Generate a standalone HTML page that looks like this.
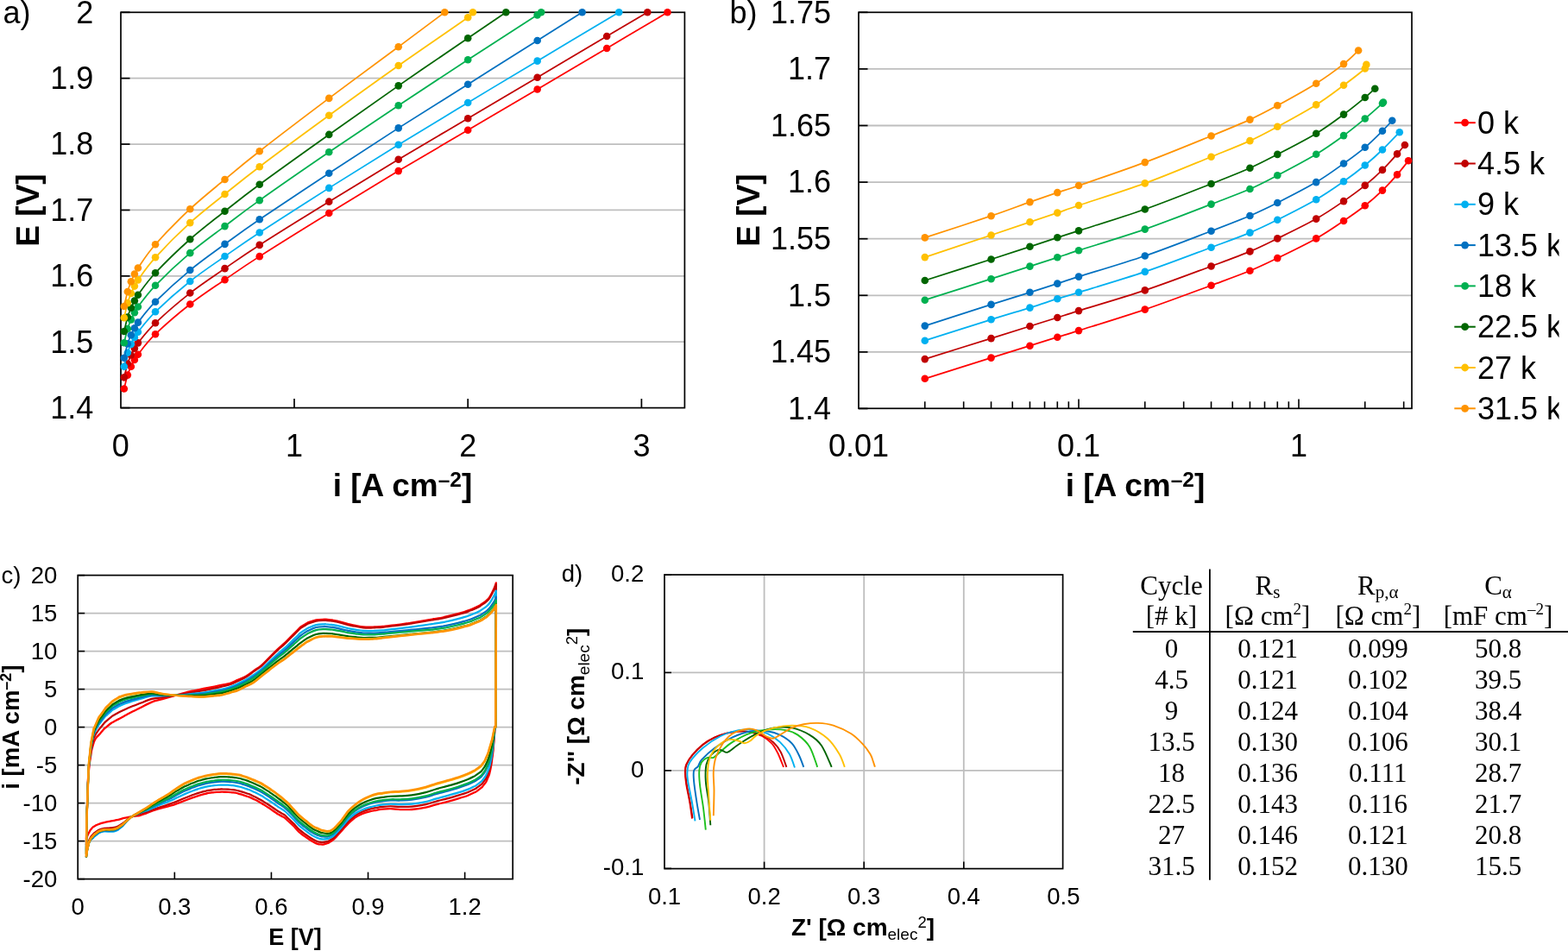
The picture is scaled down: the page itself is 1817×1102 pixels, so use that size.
<!DOCTYPE html>
<html><head><meta charset="utf-8"><title>Figure</title><style>html,body{margin:0;padding:0;background:#fff;overflow:hidden}svg{display:block}</style></head><body>
<svg width="1817" height="1102" viewBox="0 0 1817 1102">
<rect width="100%" height="100%" fill="#fff"/>
<line x1="140" y1="396.22" x2="793.4" y2="396.22" stroke="#BEBEBE" stroke-width="1.8"/>
<line x1="140" y1="319.83" x2="793.4" y2="319.83" stroke="#BEBEBE" stroke-width="1.8"/>
<line x1="140" y1="243.45" x2="793.4" y2="243.45" stroke="#BEBEBE" stroke-width="1.8"/>
<line x1="140" y1="167.07" x2="793.4" y2="167.07" stroke="#BEBEBE" stroke-width="1.8"/>
<line x1="140" y1="90.68" x2="793.4" y2="90.68" stroke="#BEBEBE" stroke-width="1.8"/>
<rect x="140" y="14.3" width="653.4" height="458.3" fill="none" stroke="#000" stroke-width="1.7"/>
<line x1="140" y1="472.6" x2="150.5" y2="472.6" stroke="#000" stroke-width="1.7"/>
<line x1="140" y1="396.22" x2="150.5" y2="396.22" stroke="#000" stroke-width="1.7"/>
<line x1="140" y1="319.83" x2="150.5" y2="319.83" stroke="#000" stroke-width="1.7"/>
<line x1="140" y1="243.45" x2="150.5" y2="243.45" stroke="#000" stroke-width="1.7"/>
<line x1="140" y1="167.07" x2="150.5" y2="167.07" stroke="#000" stroke-width="1.7"/>
<line x1="140" y1="90.68" x2="150.5" y2="90.68" stroke="#000" stroke-width="1.7"/>
<line x1="140" y1="14.3" x2="150.5" y2="14.3" stroke="#000" stroke-width="1.7"/>
<line x1="341" y1="472.6" x2="341" y2="462.1" stroke="#000" stroke-width="1.7"/>
<line x1="542.2" y1="472.6" x2="542.2" y2="462.1" stroke="#000" stroke-width="1.7"/>
<line x1="743.4" y1="472.6" x2="743.4" y2="462.1" stroke="#000" stroke-width="1.7"/>
<path d="M143.82,450.55 C144.49,447.89 146.51,438.93 147.85,434.61 C149.19,430.3 150.53,427.61 151.87,424.67 C153.21,421.74 154.55,419.32 155.9,417 C157.24,414.68 155.9,415.69 159.92,410.73 C163.94,405.76 169.98,396.93 180.04,387.22 C190.1,377.52 206.87,363 220.28,352.49 C233.69,341.99 247.11,333.4 260.52,324.17 C273.93,314.94 280.64,310 300.76,297.13 C320.88,284.26 354.41,263.45 381.24,246.94 C408.07,230.44 434.89,214.12 461.72,198.1 C488.55,182.08 515.37,166.58 542.2,150.82 C569.03,135.06 595.85,119.35 622.68,103.55 C649.51,87.74 678.02,70.86 703.16,55.98 C728.3,41.11 761.77,21.25 773.49,14.3" fill="none" stroke="#FF0000" stroke-width="1.75"/>
<circle cx="143.82" cy="450.55" r="4.3" fill="#FF0000"/>
<circle cx="147.85" cy="434.61" r="4.3" fill="#FF0000"/>
<circle cx="151.87" cy="424.67" r="4.3" fill="#FF0000"/>
<circle cx="155.9" cy="417" r="4.3" fill="#FF0000"/>
<circle cx="159.92" cy="410.73" r="4.3" fill="#FF0000"/>
<circle cx="180.04" cy="387.22" r="4.3" fill="#FF0000"/>
<circle cx="220.28" cy="352.49" r="4.3" fill="#FF0000"/>
<circle cx="260.52" cy="324.17" r="4.3" fill="#FF0000"/>
<circle cx="300.76" cy="297.13" r="4.3" fill="#FF0000"/>
<circle cx="381.24" cy="246.94" r="4.3" fill="#FF0000"/>
<circle cx="461.72" cy="198.1" r="4.3" fill="#FF0000"/>
<circle cx="542.2" cy="150.82" r="4.3" fill="#FF0000"/>
<circle cx="622.68" cy="103.55" r="4.3" fill="#FF0000"/>
<circle cx="703.16" cy="55.98" r="4.3" fill="#FF0000"/>
<circle cx="773.49" cy="14.3" r="4.3" fill="#FF0000"/>
<path d="M143.82,437.33 C144.49,434.7 146.51,425.83 147.85,421.51 C149.19,417.2 150.53,414.41 151.87,411.46 C153.21,408.5 154.55,406.14 155.9,403.79 C157.24,401.43 155.9,402.25 159.92,397.34 C163.94,392.42 169.98,383.93 180.04,374.3 C190.1,364.67 206.87,350.1 220.28,339.57 C233.69,329.04 247.11,320.41 260.52,311.13 C273.93,301.85 280.64,296.82 300.76,283.91 C320.88,271 354.41,250.19 381.24,233.67 C408.07,217.14 434.89,200.84 461.72,184.76 C488.55,168.69 515.37,153.03 542.2,137.2 C569.03,121.36 595.85,105.61 622.68,89.75 C649.51,73.88 681.89,54.58 703.16,42.01 C724.43,29.43 742.44,18.92 750.3,14.3" fill="none" stroke="#C00000" stroke-width="1.75"/>
<circle cx="143.82" cy="437.33" r="4.3" fill="#C00000"/>
<circle cx="147.85" cy="421.51" r="4.3" fill="#C00000"/>
<circle cx="151.87" cy="411.46" r="4.3" fill="#C00000"/>
<circle cx="155.9" cy="403.79" r="4.3" fill="#C00000"/>
<circle cx="159.92" cy="397.34" r="4.3" fill="#C00000"/>
<circle cx="180.04" cy="374.3" r="4.3" fill="#C00000"/>
<circle cx="220.28" cy="339.57" r="4.3" fill="#C00000"/>
<circle cx="260.52" cy="311.13" r="4.3" fill="#C00000"/>
<circle cx="300.76" cy="283.91" r="4.3" fill="#C00000"/>
<circle cx="381.24" cy="233.67" r="4.3" fill="#C00000"/>
<circle cx="461.72" cy="184.76" r="4.3" fill="#C00000"/>
<circle cx="542.2" cy="137.2" r="4.3" fill="#C00000"/>
<circle cx="622.68" cy="89.75" r="4.3" fill="#C00000"/>
<circle cx="703.16" cy="42.01" r="4.3" fill="#C00000"/>
<circle cx="750.3" cy="14.3" r="4.3" fill="#C00000"/>
<path d="M143.82,424.83 C144.49,422.15 146.51,413.06 147.85,408.73 C149.19,404.4 150.53,401.83 151.87,398.86 C153.21,395.89 154.55,393.27 155.9,390.91 C157.24,388.55 155.9,389.64 159.92,384.71 C163.94,379.78 169.98,371.11 180.04,361.32 C190.1,351.53 206.87,336.67 220.28,325.96 C233.69,315.25 247.11,306.48 260.52,297.06 C273.93,287.64 280.64,282.64 300.76,269.44 C320.88,256.25 354.41,234.81 381.24,217.88 C408.07,200.94 434.89,184.3 461.72,167.82 C488.55,151.34 515.37,135.19 542.2,118.99 C569.03,102.79 593.51,88.07 622.68,70.63 C651.85,53.18 701.47,23.69 717.23,14.3" fill="none" stroke="#00B0F0" stroke-width="1.75"/>
<circle cx="143.82" cy="424.83" r="4.3" fill="#00B0F0"/>
<circle cx="147.85" cy="408.73" r="4.3" fill="#00B0F0"/>
<circle cx="151.87" cy="398.86" r="4.3" fill="#00B0F0"/>
<circle cx="155.9" cy="390.91" r="4.3" fill="#00B0F0"/>
<circle cx="159.92" cy="384.71" r="4.3" fill="#00B0F0"/>
<circle cx="180.04" cy="361.32" r="4.3" fill="#00B0F0"/>
<circle cx="220.28" cy="325.96" r="4.3" fill="#00B0F0"/>
<circle cx="260.52" cy="297.06" r="4.3" fill="#00B0F0"/>
<circle cx="300.76" cy="269.44" r="4.3" fill="#00B0F0"/>
<circle cx="381.24" cy="217.88" r="4.3" fill="#00B0F0"/>
<circle cx="461.72" cy="167.82" r="4.3" fill="#00B0F0"/>
<circle cx="542.2" cy="118.99" r="4.3" fill="#00B0F0"/>
<circle cx="622.68" cy="70.63" r="4.3" fill="#00B0F0"/>
<circle cx="717.23" cy="14.3" r="4.3" fill="#00B0F0"/>
<path d="M143.82,414.78 C144.49,412.05 146.51,402.84 147.85,398.42 C149.19,393.99 150.53,391.24 151.87,388.22 C153.21,385.2 154.55,382.72 155.9,380.3 C157.24,377.87 155.9,378.75 159.92,373.65 C163.94,368.55 169.98,359.79 180.04,349.69 C190.1,339.59 206.87,324.2 220.28,313.07 C233.69,301.93 247.11,292.69 260.52,282.9 C273.93,273.11 280.64,268.01 300.76,254.31 C320.88,240.6 354.41,218.33 381.24,200.68 C408.07,183.02 434.89,165.53 461.72,148.38 C488.55,131.23 515.37,114.68 542.2,97.77 C569.03,80.87 600.6,60.85 622.68,46.94 C644.76,33.02 665.99,19.74 674.65,14.3" fill="none" stroke="#0070C0" stroke-width="1.75"/>
<circle cx="143.82" cy="414.78" r="4.3" fill="#0070C0"/>
<circle cx="147.85" cy="398.42" r="4.3" fill="#0070C0"/>
<circle cx="151.87" cy="388.22" r="4.3" fill="#0070C0"/>
<circle cx="155.9" cy="380.3" r="4.3" fill="#0070C0"/>
<circle cx="159.92" cy="373.65" r="4.3" fill="#0070C0"/>
<circle cx="180.04" cy="349.69" r="4.3" fill="#0070C0"/>
<circle cx="220.28" cy="313.07" r="4.3" fill="#0070C0"/>
<circle cx="260.52" cy="282.9" r="4.3" fill="#0070C0"/>
<circle cx="300.76" cy="254.31" r="4.3" fill="#0070C0"/>
<circle cx="381.24" cy="200.68" r="4.3" fill="#0070C0"/>
<circle cx="461.72" cy="148.38" r="4.3" fill="#0070C0"/>
<circle cx="542.2" cy="97.77" r="4.3" fill="#0070C0"/>
<circle cx="622.68" cy="46.94" r="4.3" fill="#0070C0"/>
<circle cx="674.65" cy="14.3" r="4.3" fill="#0070C0"/>
<path d="M143.82,397.28 C144.49,394.56 146.51,385.43 147.85,380.94 C149.19,376.46 150.53,373.47 151.87,370.36 C153.21,367.26 154.55,364.77 155.9,362.29 C157.24,359.81 155.9,360.75 159.92,355.5 C163.94,350.25 169.98,341.18 180.04,330.79 C190.1,320.39 206.87,304.57 220.28,293.13 C233.69,281.68 247.11,272.27 260.52,262.1 C273.93,251.94 280.64,246.43 300.76,232.13 C320.88,217.83 354.41,194.64 381.24,176.31 C408.07,157.99 434.89,140.03 461.72,122.18 C488.55,104.34 515.37,86.69 542.2,69.22 C569.03,51.75 608.52,26.52 622.68,17.36 C636.84,8.21 626.4,14.81 627.15,14.3" fill="none" stroke="#00B050" stroke-width="1.75"/>
<circle cx="143.82" cy="397.28" r="4.3" fill="#00B050"/>
<circle cx="147.85" cy="380.94" r="4.3" fill="#00B050"/>
<circle cx="151.87" cy="370.36" r="4.3" fill="#00B050"/>
<circle cx="155.9" cy="362.29" r="4.3" fill="#00B050"/>
<circle cx="159.92" cy="355.5" r="4.3" fill="#00B050"/>
<circle cx="180.04" cy="330.79" r="4.3" fill="#00B050"/>
<circle cx="220.28" cy="293.13" r="4.3" fill="#00B050"/>
<circle cx="260.52" cy="262.1" r="4.3" fill="#00B050"/>
<circle cx="300.76" cy="232.13" r="4.3" fill="#00B050"/>
<circle cx="381.24" cy="176.31" r="4.3" fill="#00B050"/>
<circle cx="461.72" cy="122.18" r="4.3" fill="#00B050"/>
<circle cx="542.2" cy="69.22" r="4.3" fill="#00B050"/>
<circle cx="622.68" cy="17.36" r="4.3" fill="#00B050"/>
<circle cx="627.15" cy="14.3" r="4.3" fill="#00B050"/>
<path d="M143.82,383.96 C144.49,381.22 146.51,372.04 147.85,367.51 C149.19,362.98 150.53,359.94 151.87,356.77 C153.21,353.6 154.55,350.99 155.9,348.47 C157.24,345.96 155.9,347.06 159.92,341.69 C163.94,336.32 169.98,327.01 180.04,316.27 C190.1,305.53 206.87,289.17 220.28,277.25 C233.69,265.33 247.11,255.34 260.52,244.75 C273.93,234.16 280.64,228.51 300.76,213.7 C320.88,198.9 354.41,174.98 381.24,155.92 C408.07,136.87 434.89,117.98 461.72,99.37 C488.55,80.76 521.43,58.44 542.2,44.26 C562.97,30.09 578.99,19.29 586.35,14.3" fill="none" stroke="#006600" stroke-width="1.75"/>
<circle cx="143.82" cy="383.96" r="4.3" fill="#006600"/>
<circle cx="147.85" cy="367.51" r="4.3" fill="#006600"/>
<circle cx="151.87" cy="356.77" r="4.3" fill="#006600"/>
<circle cx="155.9" cy="348.47" r="4.3" fill="#006600"/>
<circle cx="159.92" cy="341.69" r="4.3" fill="#006600"/>
<circle cx="180.04" cy="316.27" r="4.3" fill="#006600"/>
<circle cx="220.28" cy="277.25" r="4.3" fill="#006600"/>
<circle cx="260.52" cy="244.75" r="4.3" fill="#006600"/>
<circle cx="300.76" cy="213.7" r="4.3" fill="#006600"/>
<circle cx="381.24" cy="155.92" r="4.3" fill="#006600"/>
<circle cx="461.72" cy="99.37" r="4.3" fill="#006600"/>
<circle cx="542.2" cy="44.26" r="4.3" fill="#006600"/>
<circle cx="586.35" cy="14.3" r="4.3" fill="#006600"/>
<path d="M143.82,368.25 C144.49,365.4 146.51,355.82 147.85,351.12 C149.19,346.42 150.53,343.3 151.87,340.04 C153.21,336.78 154.55,334.2 155.9,331.58 C157.24,328.96 155.9,329.89 159.92,324.34 C163.94,318.79 169.98,309.33 180.04,298.29 C190.1,287.25 206.87,270.33 220.28,258.11 C233.69,245.89 247.11,235.8 260.52,224.98 C273.93,214.16 280.64,208.38 300.76,193.18 C320.88,177.98 354.41,153.31 381.24,133.79 C408.07,114.26 434.89,94.96 461.72,76.02 C488.55,57.09 527.82,30.46 542.2,20.18 C556.58,9.89 547.01,15.28 547.97,14.3" fill="none" stroke="#FFC000" stroke-width="1.75"/>
<circle cx="143.82" cy="368.25" r="4.3" fill="#FFC000"/>
<circle cx="147.85" cy="351.12" r="4.3" fill="#FFC000"/>
<circle cx="151.87" cy="340.04" r="4.3" fill="#FFC000"/>
<circle cx="155.9" cy="331.58" r="4.3" fill="#FFC000"/>
<circle cx="159.92" cy="324.34" r="4.3" fill="#FFC000"/>
<circle cx="180.04" cy="298.29" r="4.3" fill="#FFC000"/>
<circle cx="220.28" cy="258.11" r="4.3" fill="#FFC000"/>
<circle cx="260.52" cy="224.98" r="4.3" fill="#FFC000"/>
<circle cx="300.76" cy="193.18" r="4.3" fill="#FFC000"/>
<circle cx="381.24" cy="133.79" r="4.3" fill="#FFC000"/>
<circle cx="461.72" cy="76.02" r="4.3" fill="#FFC000"/>
<circle cx="542.2" cy="20.18" r="4.3" fill="#FFC000"/>
<circle cx="547.97" cy="14.3" r="4.3" fill="#FFC000"/>
<path d="M143.82,354.95 C144.49,352.11 146.51,342.73 147.85,337.95 C149.19,333.17 150.53,329.66 151.87,326.26 C153.21,322.85 154.55,320.16 155.9,317.53 C157.24,314.9 155.9,316.21 159.92,310.49 C163.94,304.78 169.98,294.61 180.04,283.22 C190.1,271.84 206.87,254.73 220.28,242.19 C233.69,229.64 247.11,219.12 260.52,207.96 C273.93,196.81 280.64,190.93 300.76,175.25 C320.88,159.58 354.41,134.06 381.24,113.91 C408.07,93.75 439.37,70.91 461.72,54.31 C484.07,37.71 506.38,20.97 515.31,14.3" fill="none" stroke="#FF9300" stroke-width="1.75"/>
<circle cx="143.82" cy="354.95" r="4.3" fill="#FF9300"/>
<circle cx="147.85" cy="337.95" r="4.3" fill="#FF9300"/>
<circle cx="151.87" cy="326.26" r="4.3" fill="#FF9300"/>
<circle cx="155.9" cy="317.53" r="4.3" fill="#FF9300"/>
<circle cx="159.92" cy="310.49" r="4.3" fill="#FF9300"/>
<circle cx="180.04" cy="283.22" r="4.3" fill="#FF9300"/>
<circle cx="220.28" cy="242.19" r="4.3" fill="#FF9300"/>
<circle cx="260.52" cy="207.96" r="4.3" fill="#FF9300"/>
<circle cx="300.76" cy="175.25" r="4.3" fill="#FF9300"/>
<circle cx="381.24" cy="113.91" r="4.3" fill="#FF9300"/>
<circle cx="461.72" cy="54.31" r="4.3" fill="#FF9300"/>
<circle cx="515.31" cy="14.3" r="4.3" fill="#FF9300"/>
<text x="108.2" y="484.9" style="font-family:'Liberation Sans',Arial,sans-serif;font-size:36px;font-weight:normal" text-anchor="end">1.4</text>
<text x="108.2" y="408.52" style="font-family:'Liberation Sans',Arial,sans-serif;font-size:36px;font-weight:normal" text-anchor="end">1.5</text>
<text x="108.2" y="332.13" style="font-family:'Liberation Sans',Arial,sans-serif;font-size:36px;font-weight:normal" text-anchor="end">1.6</text>
<text x="108.2" y="255.75" style="font-family:'Liberation Sans',Arial,sans-serif;font-size:36px;font-weight:normal" text-anchor="end">1.7</text>
<text x="108.2" y="179.37" style="font-family:'Liberation Sans',Arial,sans-serif;font-size:36px;font-weight:normal" text-anchor="end">1.8</text>
<text x="108.2" y="102.98" style="font-family:'Liberation Sans',Arial,sans-serif;font-size:36px;font-weight:normal" text-anchor="end">1.9</text>
<text x="108.2" y="26.6" style="font-family:'Liberation Sans',Arial,sans-serif;font-size:36px;font-weight:normal" text-anchor="end">2</text>
<text x="139.8" y="529" style="font-family:'Liberation Sans',Arial,sans-serif;font-size:36px;font-weight:normal" text-anchor="middle">0</text>
<text x="341" y="529" style="font-family:'Liberation Sans',Arial,sans-serif;font-size:36px;font-weight:normal" text-anchor="middle">1</text>
<text x="542.2" y="529" style="font-family:'Liberation Sans',Arial,sans-serif;font-size:36px;font-weight:normal" text-anchor="middle">2</text>
<text x="743.4" y="529" style="font-family:'Liberation Sans',Arial,sans-serif;font-size:36px;font-weight:normal" text-anchor="middle">3</text>
<text x="3.5" y="27.4" style="font-family:'Liberation Sans',Arial,sans-serif;font-size:36px;font-weight:normal" text-anchor="start">a)</text>
<text transform="translate(45,243.5) rotate(-90)" style="font-family:'Liberation Sans',Arial,sans-serif;font-size:37px;font-weight:bold" text-anchor="middle">E [V]</text>
<text x="466.5" y="575" style="font-family:'Liberation Sans',Arial,sans-serif;font-size:37px;font-weight:bold" text-anchor="middle">i [A cm<tspan dy="-11.5" style="font-size:24.5px">&#8211;2</tspan><tspan dy="11.5">]</tspan></text>
<line x1="995" y1="407.9" x2="1636" y2="407.9" stroke="#BEBEBE" stroke-width="1.8"/>
<line x1="995" y1="342.3" x2="1636" y2="342.3" stroke="#BEBEBE" stroke-width="1.8"/>
<line x1="995" y1="276.7" x2="1636" y2="276.7" stroke="#BEBEBE" stroke-width="1.8"/>
<line x1="995" y1="211.1" x2="1636" y2="211.1" stroke="#BEBEBE" stroke-width="1.8"/>
<line x1="995" y1="145.5" x2="1636" y2="145.5" stroke="#BEBEBE" stroke-width="1.8"/>
<line x1="995" y1="79.9" x2="1636" y2="79.9" stroke="#BEBEBE" stroke-width="1.8"/>
<rect x="995" y="14.3" width="641" height="459" fill="none" stroke="#000" stroke-width="1.7"/>
<line x1="995" y1="473.5" x2="1005.5" y2="473.5" stroke="#000" stroke-width="1.7"/>
<line x1="995" y1="407.9" x2="1005.5" y2="407.9" stroke="#000" stroke-width="1.7"/>
<line x1="995" y1="342.3" x2="1005.5" y2="342.3" stroke="#000" stroke-width="1.7"/>
<line x1="995" y1="276.7" x2="1005.5" y2="276.7" stroke="#000" stroke-width="1.7"/>
<line x1="995" y1="211.1" x2="1005.5" y2="211.1" stroke="#000" stroke-width="1.7"/>
<line x1="995" y1="145.5" x2="1005.5" y2="145.5" stroke="#000" stroke-width="1.7"/>
<line x1="995" y1="79.9" x2="1005.5" y2="79.9" stroke="#000" stroke-width="1.7"/>
<line x1="995" y1="14.3" x2="1005.5" y2="14.3" stroke="#000" stroke-width="1.7"/>
<line x1="1071.76" y1="473.3" x2="1071.76" y2="465.3" stroke="#000" stroke-width="1.6"/>
<line x1="1116.67" y1="473.3" x2="1116.67" y2="465.3" stroke="#000" stroke-width="1.6"/>
<line x1="1148.53" y1="473.3" x2="1148.53" y2="465.3" stroke="#000" stroke-width="1.6"/>
<line x1="1173.24" y1="473.3" x2="1173.24" y2="465.3" stroke="#000" stroke-width="1.6"/>
<line x1="1193.43" y1="473.3" x2="1193.43" y2="465.3" stroke="#000" stroke-width="1.6"/>
<line x1="1210.5" y1="473.3" x2="1210.5" y2="465.3" stroke="#000" stroke-width="1.6"/>
<line x1="1225.29" y1="473.3" x2="1225.29" y2="465.3" stroke="#000" stroke-width="1.6"/>
<line x1="1238.33" y1="473.3" x2="1238.33" y2="465.3" stroke="#000" stroke-width="1.6"/>
<line x1="1250" y1="473.3" x2="1250" y2="462.6" stroke="#000" stroke-width="1.6"/>
<line x1="1326.76" y1="473.3" x2="1326.76" y2="465.3" stroke="#000" stroke-width="1.6"/>
<line x1="1371.67" y1="473.3" x2="1371.67" y2="465.3" stroke="#000" stroke-width="1.6"/>
<line x1="1403.53" y1="473.3" x2="1403.53" y2="465.3" stroke="#000" stroke-width="1.6"/>
<line x1="1428.24" y1="473.3" x2="1428.24" y2="465.3" stroke="#000" stroke-width="1.6"/>
<line x1="1448.43" y1="473.3" x2="1448.43" y2="465.3" stroke="#000" stroke-width="1.6"/>
<line x1="1465.5" y1="473.3" x2="1465.5" y2="465.3" stroke="#000" stroke-width="1.6"/>
<line x1="1480.29" y1="473.3" x2="1480.29" y2="465.3" stroke="#000" stroke-width="1.6"/>
<line x1="1493.33" y1="473.3" x2="1493.33" y2="465.3" stroke="#000" stroke-width="1.6"/>
<line x1="1505" y1="473.3" x2="1505" y2="462.6" stroke="#000" stroke-width="1.6"/>
<line x1="1581.76" y1="473.3" x2="1581.76" y2="465.3" stroke="#000" stroke-width="1.6"/>
<line x1="1626.67" y1="473.3" x2="1626.67" y2="465.3" stroke="#000" stroke-width="1.6"/>
<path d="M1071.76,438.8 C1084.56,434.77 1128.25,420.95 1148.53,414.6 C1168.8,408.25 1180.63,404.68 1193.43,400.7 C1206.22,396.72 1215.86,393.63 1225.29,390.7 C1234.72,387.77 1233.09,388.45 1250,383.1 C1266.91,377.75 1301.18,367.33 1326.76,358.6 C1352.35,349.87 1383.25,338.17 1403.53,330.7 C1423.8,323.23 1435.63,319.07 1448.43,313.8 C1461.22,308.53 1467.49,305.33 1480.29,299.1 C1493.08,292.87 1512.4,283.58 1525.19,276.4 C1537.98,269.22 1547.62,262.35 1557.05,256 C1566.48,249.65 1574.28,244.2 1581.76,238.3 C1589.25,232.4 1595.74,226.58 1601.95,220.6 C1608.16,214.62 1614.01,208.12 1619.03,202.4 C1624.04,196.68 1629.88,188.98 1632.05,186.3" fill="none" stroke="#FF0000" stroke-width="1.75"/>
<circle cx="1071.76" cy="438.8" r="4.3" fill="#FF0000"/>
<circle cx="1148.53" cy="414.6" r="4.3" fill="#FF0000"/>
<circle cx="1193.43" cy="400.7" r="4.3" fill="#FF0000"/>
<circle cx="1225.29" cy="390.7" r="4.3" fill="#FF0000"/>
<circle cx="1250" cy="383.1" r="4.3" fill="#FF0000"/>
<circle cx="1326.76" cy="358.6" r="4.3" fill="#FF0000"/>
<circle cx="1403.53" cy="330.7" r="4.3" fill="#FF0000"/>
<circle cx="1448.43" cy="313.8" r="4.3" fill="#FF0000"/>
<circle cx="1480.29" cy="299.1" r="4.3" fill="#FF0000"/>
<circle cx="1525.19" cy="276.4" r="4.3" fill="#FF0000"/>
<circle cx="1557.05" cy="256" r="4.3" fill="#FF0000"/>
<circle cx="1581.76" cy="238.3" r="4.3" fill="#FF0000"/>
<circle cx="1601.95" cy="220.6" r="4.3" fill="#FF0000"/>
<circle cx="1619.03" cy="202.4" r="4.3" fill="#FF0000"/>
<circle cx="1632.05" cy="186.3" r="4.3" fill="#FF0000"/>
<path d="M1071.76,416.1 C1084.56,412.1 1128.25,398.45 1148.53,392.1 C1168.8,385.75 1180.63,382.02 1193.43,378 C1206.22,373.98 1215.86,370.98 1225.29,368 C1234.72,365.02 1233.09,365.37 1250,360.1 C1266.91,354.83 1301.18,345 1326.76,336.4 C1352.35,327.8 1383.25,316 1403.53,308.5 C1423.8,301 1435.63,296.75 1448.43,291.4 C1461.22,286.05 1467.49,282.7 1480.29,276.4 C1493.08,270.1 1512.4,260.82 1525.19,253.6 C1537.98,246.38 1547.62,239.55 1557.05,233.1 C1566.48,226.65 1574.28,220.93 1581.76,214.9 C1589.25,208.87 1595.74,202.98 1601.95,196.9 C1608.16,190.82 1614.7,183.22 1619.03,178.4 C1623.35,173.58 1626.44,169.73 1627.92,168" fill="none" stroke="#C00000" stroke-width="1.75"/>
<circle cx="1071.76" cy="416.1" r="4.3" fill="#C00000"/>
<circle cx="1148.53" cy="392.1" r="4.3" fill="#C00000"/>
<circle cx="1193.43" cy="378" r="4.3" fill="#C00000"/>
<circle cx="1225.29" cy="368" r="4.3" fill="#C00000"/>
<circle cx="1250" cy="360.1" r="4.3" fill="#C00000"/>
<circle cx="1326.76" cy="336.4" r="4.3" fill="#C00000"/>
<circle cx="1403.53" cy="308.5" r="4.3" fill="#C00000"/>
<circle cx="1448.43" cy="291.4" r="4.3" fill="#C00000"/>
<circle cx="1480.29" cy="276.4" r="4.3" fill="#C00000"/>
<circle cx="1525.19" cy="253.6" r="4.3" fill="#C00000"/>
<circle cx="1557.05" cy="233.1" r="4.3" fill="#C00000"/>
<circle cx="1581.76" cy="214.9" r="4.3" fill="#C00000"/>
<circle cx="1601.95" cy="196.9" r="4.3" fill="#C00000"/>
<circle cx="1619.03" cy="178.4" r="4.3" fill="#C00000"/>
<circle cx="1627.92" cy="168" r="4.3" fill="#C00000"/>
<path d="M1071.76,394.7 C1084.56,390.63 1128.25,376.65 1148.53,370.3 C1168.8,363.95 1180.63,360.62 1193.43,356.6 C1206.22,352.58 1215.86,349.17 1225.29,346.2 C1234.72,343.23 1233.09,344.02 1250,338.8 C1266.91,333.58 1301.18,323.58 1326.76,314.9 C1352.35,306.22 1383.25,294.25 1403.53,286.7 C1423.8,279.15 1435.63,274.93 1448.43,269.6 C1461.22,264.27 1467.49,261.1 1480.29,254.7 C1493.08,248.3 1512.4,238.6 1525.19,231.2 C1537.98,223.8 1547.62,216.92 1557.05,210.3 C1566.48,203.68 1574.28,197.63 1581.76,191.5 C1589.25,185.37 1595.29,179.88 1601.95,173.5 C1608.62,167.12 1618.46,156.58 1621.76,153.2" fill="none" stroke="#00B0F0" stroke-width="1.75"/>
<circle cx="1071.76" cy="394.7" r="4.3" fill="#00B0F0"/>
<circle cx="1148.53" cy="370.3" r="4.3" fill="#00B0F0"/>
<circle cx="1193.43" cy="356.6" r="4.3" fill="#00B0F0"/>
<circle cx="1225.29" cy="346.2" r="4.3" fill="#00B0F0"/>
<circle cx="1250" cy="338.8" r="4.3" fill="#00B0F0"/>
<circle cx="1326.76" cy="314.9" r="4.3" fill="#00B0F0"/>
<circle cx="1403.53" cy="286.7" r="4.3" fill="#00B0F0"/>
<circle cx="1448.43" cy="269.6" r="4.3" fill="#00B0F0"/>
<circle cx="1480.29" cy="254.7" r="4.3" fill="#00B0F0"/>
<circle cx="1525.19" cy="231.2" r="4.3" fill="#00B0F0"/>
<circle cx="1557.05" cy="210.3" r="4.3" fill="#00B0F0"/>
<circle cx="1581.76" cy="191.5" r="4.3" fill="#00B0F0"/>
<circle cx="1601.95" cy="173.5" r="4.3" fill="#00B0F0"/>
<circle cx="1621.76" cy="153.2" r="4.3" fill="#00B0F0"/>
<path d="M1071.76,377.6 C1084.56,373.48 1128.25,359.37 1148.53,352.9 C1168.8,346.43 1180.63,342.85 1193.43,338.8 C1206.22,334.75 1215.86,331.63 1225.29,328.6 C1234.72,325.57 1233.09,325.95 1250,320.6 C1266.91,315.25 1301.18,305.32 1326.76,296.5 C1352.35,287.68 1383.25,275.45 1403.53,267.7 C1423.8,259.95 1435.63,255.45 1448.43,250 C1461.22,244.55 1467.49,241.48 1480.29,235 C1493.08,228.52 1512.4,218.68 1525.19,211.1 C1537.98,203.52 1547.62,196.22 1557.05,189.5 C1566.48,182.78 1574.28,177.1 1581.76,170.8 C1589.25,164.5 1596.7,156.88 1601.95,151.7 C1607.21,146.52 1611.39,141.7 1613.27,139.7" fill="none" stroke="#0070C0" stroke-width="1.75"/>
<circle cx="1071.76" cy="377.6" r="4.3" fill="#0070C0"/>
<circle cx="1148.53" cy="352.9" r="4.3" fill="#0070C0"/>
<circle cx="1193.43" cy="338.8" r="4.3" fill="#0070C0"/>
<circle cx="1225.29" cy="328.6" r="4.3" fill="#0070C0"/>
<circle cx="1250" cy="320.6" r="4.3" fill="#0070C0"/>
<circle cx="1326.76" cy="296.5" r="4.3" fill="#0070C0"/>
<circle cx="1403.53" cy="267.7" r="4.3" fill="#0070C0"/>
<circle cx="1448.43" cy="250" r="4.3" fill="#0070C0"/>
<circle cx="1480.29" cy="235" r="4.3" fill="#0070C0"/>
<circle cx="1525.19" cy="211.1" r="4.3" fill="#0070C0"/>
<circle cx="1557.05" cy="189.5" r="4.3" fill="#0070C0"/>
<circle cx="1581.76" cy="170.8" r="4.3" fill="#0070C0"/>
<circle cx="1601.95" cy="151.7" r="4.3" fill="#0070C0"/>
<circle cx="1613.27" cy="139.7" r="4.3" fill="#0070C0"/>
<path d="M1071.76,347.7 C1084.56,343.62 1128.25,329.72 1148.53,323.2 C1168.8,316.68 1180.63,312.75 1193.43,308.6 C1206.22,304.45 1215.86,301.37 1225.29,298.3 C1234.72,295.23 1233.09,295.65 1250,290.2 C1266.91,284.75 1301.18,274.53 1326.76,265.6 C1352.35,256.67 1383.25,244.37 1403.53,236.6 C1423.8,228.83 1435.63,224.57 1448.43,219 C1461.22,213.43 1467.49,209.92 1480.29,203.2 C1493.08,196.48 1512.4,186.38 1525.19,178.7 C1537.98,171.02 1547.62,163.97 1557.05,157.1 C1566.48,150.23 1574.28,143.72 1581.76,137.5 C1589.25,131.28 1598.42,122.97 1601.95,119.8 C1605.49,116.63 1602.8,118.72 1602.97,118.5" fill="none" stroke="#00B050" stroke-width="1.75"/>
<circle cx="1071.76" cy="347.7" r="4.3" fill="#00B050"/>
<circle cx="1148.53" cy="323.2" r="4.3" fill="#00B050"/>
<circle cx="1193.43" cy="308.6" r="4.3" fill="#00B050"/>
<circle cx="1225.29" cy="298.3" r="4.3" fill="#00B050"/>
<circle cx="1250" cy="290.2" r="4.3" fill="#00B050"/>
<circle cx="1326.76" cy="265.6" r="4.3" fill="#00B050"/>
<circle cx="1403.53" cy="236.6" r="4.3" fill="#00B050"/>
<circle cx="1448.43" cy="219" r="4.3" fill="#00B050"/>
<circle cx="1480.29" cy="203.2" r="4.3" fill="#00B050"/>
<circle cx="1525.19" cy="178.7" r="4.3" fill="#00B050"/>
<circle cx="1557.05" cy="157.1" r="4.3" fill="#00B050"/>
<circle cx="1581.76" cy="137.5" r="4.3" fill="#00B050"/>
<circle cx="1601.95" cy="119.8" r="4.3" fill="#00B050"/>
<circle cx="1602.97" cy="118.5" r="4.3" fill="#00B050"/>
<path d="M1071.76,325 C1084.56,320.92 1128.25,307.03 1148.53,300.5 C1168.8,293.97 1180.63,290 1193.43,285.8 C1206.22,281.6 1215.86,278.37 1225.29,275.3 C1234.72,272.23 1233.09,272.87 1250,267.4 C1266.91,261.93 1301.18,251.57 1326.76,242.5 C1352.35,233.43 1383.25,220.97 1403.53,213 C1423.8,205.03 1435.63,200.38 1448.43,194.7 C1461.22,189.02 1467.49,185.57 1480.29,178.9 C1493.08,172.23 1512.4,162.42 1525.19,154.7 C1537.98,146.98 1547.62,139.55 1557.05,132.6 C1566.48,125.65 1575.72,117.98 1581.76,113 C1587.8,108.02 1591.37,104.42 1593.29,102.7" fill="none" stroke="#006600" stroke-width="1.75"/>
<circle cx="1071.76" cy="325" r="4.3" fill="#006600"/>
<circle cx="1148.53" cy="300.5" r="4.3" fill="#006600"/>
<circle cx="1193.43" cy="285.8" r="4.3" fill="#006600"/>
<circle cx="1225.29" cy="275.3" r="4.3" fill="#006600"/>
<circle cx="1250" cy="267.4" r="4.3" fill="#006600"/>
<circle cx="1326.76" cy="242.5" r="4.3" fill="#006600"/>
<circle cx="1403.53" cy="213" r="4.3" fill="#006600"/>
<circle cx="1448.43" cy="194.7" r="4.3" fill="#006600"/>
<circle cx="1480.29" cy="178.9" r="4.3" fill="#006600"/>
<circle cx="1525.19" cy="154.7" r="4.3" fill="#006600"/>
<circle cx="1557.05" cy="132.6" r="4.3" fill="#006600"/>
<circle cx="1581.76" cy="113" r="4.3" fill="#006600"/>
<circle cx="1593.29" cy="102.7" r="4.3" fill="#006600"/>
<path d="M1071.76,298.1 C1084.56,293.83 1128.25,279.3 1148.53,272.5 C1168.8,265.7 1180.63,261.62 1193.43,257.3 C1206.22,252.98 1215.86,249.82 1225.29,246.6 C1234.72,243.38 1233.09,243.7 1250,238 C1266.91,232.3 1301.18,221.78 1326.76,212.4 C1352.35,203.02 1383.25,189.92 1403.53,181.7 C1423.8,173.48 1435.63,168.92 1448.43,163.1 C1461.22,157.28 1467.49,153.75 1480.29,146.8 C1493.08,139.85 1512.4,129.4 1525.19,121.4 C1537.98,113.4 1547.62,105.78 1557.05,98.8 C1566.48,91.82 1577.38,83.48 1581.76,79.5 C1586.14,75.52 1583.08,75.67 1583.34,74.9" fill="none" stroke="#FFC000" stroke-width="1.75"/>
<circle cx="1071.76" cy="298.1" r="4.3" fill="#FFC000"/>
<circle cx="1148.53" cy="272.5" r="4.3" fill="#FFC000"/>
<circle cx="1193.43" cy="257.3" r="4.3" fill="#FFC000"/>
<circle cx="1225.29" cy="246.6" r="4.3" fill="#FFC000"/>
<circle cx="1250" cy="238" r="4.3" fill="#FFC000"/>
<circle cx="1326.76" cy="212.4" r="4.3" fill="#FFC000"/>
<circle cx="1403.53" cy="181.7" r="4.3" fill="#FFC000"/>
<circle cx="1448.43" cy="163.1" r="4.3" fill="#FFC000"/>
<circle cx="1480.29" cy="146.8" r="4.3" fill="#FFC000"/>
<circle cx="1525.19" cy="121.4" r="4.3" fill="#FFC000"/>
<circle cx="1557.05" cy="98.8" r="4.3" fill="#FFC000"/>
<circle cx="1581.76" cy="79.5" r="4.3" fill="#FFC000"/>
<circle cx="1583.34" cy="74.9" r="4.3" fill="#FFC000"/>
<path d="M1071.76,275.4 C1084.56,271.2 1128.25,257.08 1148.53,250.2 C1168.8,243.32 1180.63,238.62 1193.43,234.1 C1206.22,229.58 1215.86,226.28 1225.29,223.1 C1234.72,219.92 1233.09,220.83 1250,215 C1266.91,209.17 1301.18,197.68 1326.76,188.1 C1352.35,178.52 1383.25,165.75 1403.53,157.5 C1423.8,149.25 1435.63,144.47 1448.43,138.6 C1461.22,132.73 1467.49,129.28 1480.29,122.3 C1493.08,115.32 1512.4,104.73 1525.19,96.7 C1537.98,88.67 1548.9,80.47 1557.05,74.1 C1565.2,67.73 1571.26,61.1 1574.1,58.5" fill="none" stroke="#FF9300" stroke-width="1.75"/>
<circle cx="1071.76" cy="275.4" r="4.3" fill="#FF9300"/>
<circle cx="1148.53" cy="250.2" r="4.3" fill="#FF9300"/>
<circle cx="1193.43" cy="234.1" r="4.3" fill="#FF9300"/>
<circle cx="1225.29" cy="223.1" r="4.3" fill="#FF9300"/>
<circle cx="1250" cy="215" r="4.3" fill="#FF9300"/>
<circle cx="1326.76" cy="188.1" r="4.3" fill="#FF9300"/>
<circle cx="1403.53" cy="157.5" r="4.3" fill="#FF9300"/>
<circle cx="1448.43" cy="138.6" r="4.3" fill="#FF9300"/>
<circle cx="1480.29" cy="122.3" r="4.3" fill="#FF9300"/>
<circle cx="1525.19" cy="96.7" r="4.3" fill="#FF9300"/>
<circle cx="1557.05" cy="74.1" r="4.3" fill="#FF9300"/>
<circle cx="1574.1" cy="58.5" r="4.3" fill="#FF9300"/>
<text x="963" y="485.7" style="font-family:'Liberation Sans',Arial,sans-serif;font-size:36px;font-weight:normal" text-anchor="end">1.4</text>
<text x="963" y="420.1" style="font-family:'Liberation Sans',Arial,sans-serif;font-size:36px;font-weight:normal" text-anchor="end">1.45</text>
<text x="963" y="354.5" style="font-family:'Liberation Sans',Arial,sans-serif;font-size:36px;font-weight:normal" text-anchor="end">1.5</text>
<text x="963" y="288.9" style="font-family:'Liberation Sans',Arial,sans-serif;font-size:36px;font-weight:normal" text-anchor="end">1.55</text>
<text x="963" y="223.3" style="font-family:'Liberation Sans',Arial,sans-serif;font-size:36px;font-weight:normal" text-anchor="end">1.6</text>
<text x="963" y="157.7" style="font-family:'Liberation Sans',Arial,sans-serif;font-size:36px;font-weight:normal" text-anchor="end">1.65</text>
<text x="963" y="92.1" style="font-family:'Liberation Sans',Arial,sans-serif;font-size:36px;font-weight:normal" text-anchor="end">1.7</text>
<text x="963" y="26.5" style="font-family:'Liberation Sans',Arial,sans-serif;font-size:36px;font-weight:normal" text-anchor="end">1.75</text>
<text x="995" y="529" style="font-family:'Liberation Sans',Arial,sans-serif;font-size:36px;font-weight:normal" text-anchor="middle">0.01</text>
<text x="1250" y="529" style="font-family:'Liberation Sans',Arial,sans-serif;font-size:36px;font-weight:normal" text-anchor="middle">0.1</text>
<text x="1505" y="529" style="font-family:'Liberation Sans',Arial,sans-serif;font-size:36px;font-weight:normal" text-anchor="middle">1</text>
<text x="845.5" y="27.4" style="font-family:'Liberation Sans',Arial,sans-serif;font-size:36px;font-weight:normal" text-anchor="start">b)</text>
<text transform="translate(879.5,243.5) rotate(-90)" style="font-family:'Liberation Sans',Arial,sans-serif;font-size:37px;font-weight:bold" text-anchor="middle">E [V]</text>
<text x="1315.5" y="575" style="font-family:'Liberation Sans',Arial,sans-serif;font-size:37px;font-weight:bold" text-anchor="middle">i [A cm<tspan dy="-11.5" style="font-size:24.5px">&#8211;2</tspan><tspan dy="11.5">]</tspan></text>
<defs><clipPath id="legclip"><rect x="1600" y="100" width="206.5" height="420"/></clipPath></defs>
<line x1="1685.3" y1="142.2" x2="1709.8" y2="142.2" stroke="#FF0000" stroke-width="2"/>
<circle cx="1697.6" cy="142.2" r="4.4" fill="#FF0000"/>
<text x="1712" y="154.8" style="font-family:'Liberation Sans',Arial,sans-serif;font-size:36px;font-weight:normal" text-anchor="start" clip-path="url(#legclip)">0 k</text>
<line x1="1685.3" y1="189.5" x2="1709.8" y2="189.5" stroke="#C00000" stroke-width="2"/>
<circle cx="1697.6" cy="189.5" r="4.4" fill="#C00000"/>
<text x="1712" y="202.1" style="font-family:'Liberation Sans',Arial,sans-serif;font-size:36px;font-weight:normal" text-anchor="start" clip-path="url(#legclip)">4.5 k</text>
<line x1="1685.3" y1="236.8" x2="1709.8" y2="236.8" stroke="#00B0F0" stroke-width="2"/>
<circle cx="1697.6" cy="236.8" r="4.4" fill="#00B0F0"/>
<text x="1712" y="249.4" style="font-family:'Liberation Sans',Arial,sans-serif;font-size:36px;font-weight:normal" text-anchor="start" clip-path="url(#legclip)">9 k</text>
<line x1="1685.3" y1="284.1" x2="1709.8" y2="284.1" stroke="#0070C0" stroke-width="2"/>
<circle cx="1697.6" cy="284.1" r="4.4" fill="#0070C0"/>
<text x="1712" y="296.7" style="font-family:'Liberation Sans',Arial,sans-serif;font-size:36px;font-weight:normal" text-anchor="start" clip-path="url(#legclip)">13.5 k</text>
<line x1="1685.3" y1="331.4" x2="1709.8" y2="331.4" stroke="#00B050" stroke-width="2"/>
<circle cx="1697.6" cy="331.4" r="4.4" fill="#00B050"/>
<text x="1712" y="344" style="font-family:'Liberation Sans',Arial,sans-serif;font-size:36px;font-weight:normal" text-anchor="start" clip-path="url(#legclip)">18 k</text>
<line x1="1685.3" y1="378.7" x2="1709.8" y2="378.7" stroke="#006600" stroke-width="2"/>
<circle cx="1697.6" cy="378.7" r="4.4" fill="#006600"/>
<text x="1712" y="391.3" style="font-family:'Liberation Sans',Arial,sans-serif;font-size:36px;font-weight:normal" text-anchor="start" clip-path="url(#legclip)">22.5 k</text>
<line x1="1685.3" y1="426" x2="1709.8" y2="426" stroke="#FFC000" stroke-width="2"/>
<circle cx="1697.6" cy="426" r="4.4" fill="#FFC000"/>
<text x="1712" y="438.6" style="font-family:'Liberation Sans',Arial,sans-serif;font-size:36px;font-weight:normal" text-anchor="start" clip-path="url(#legclip)">27 k</text>
<line x1="1685.3" y1="473.3" x2="1709.8" y2="473.3" stroke="#FF9300" stroke-width="2"/>
<circle cx="1697.6" cy="473.3" r="4.4" fill="#FF9300"/>
<text x="1712" y="485.9" style="font-family:'Liberation Sans',Arial,sans-serif;font-size:36px;font-weight:normal" text-anchor="start" clip-path="url(#legclip)">31.5 k</text>
<defs><clipPath id="cc"><rect x="90.2" y="666.6" width="504" height="352"/></clipPath></defs>
<line x1="90.2" y1="974.6" x2="594.2" y2="974.6" stroke="#BEBEBE" stroke-width="1.8"/>
<line x1="90.2" y1="930.6" x2="594.2" y2="930.6" stroke="#BEBEBE" stroke-width="1.8"/>
<line x1="90.2" y1="886.6" x2="594.2" y2="886.6" stroke="#BEBEBE" stroke-width="1.8"/>
<line x1="90.2" y1="842.6" x2="594.2" y2="842.6" stroke="#BEBEBE" stroke-width="1.8"/>
<line x1="90.2" y1="798.6" x2="594.2" y2="798.6" stroke="#BEBEBE" stroke-width="1.8"/>
<line x1="90.2" y1="754.6" x2="594.2" y2="754.6" stroke="#BEBEBE" stroke-width="1.8"/>
<line x1="90.2" y1="710.6" x2="594.2" y2="710.6" stroke="#BEBEBE" stroke-width="1.8"/>
<path d="M99.92,972.84 C100,969.72 100.28,959.69 100.44,954.11 C100.6,948.54 100.66,945.66 100.85,939.4 C101.04,933.14 101.39,922.85 101.6,916.57 C101.8,910.3 101.87,905.63 102.08,901.74 C102.3,897.84 102.64,895.92 102.91,893.21 C103.17,890.5 103.24,888.62 103.65,885.46 C104.07,882.29 104.99,876.92 105.41,874.2 C105.83,871.49 105.66,871.45 106.19,869.18 C106.72,866.9 108.15,862.14 108.59,860.57 C109.02,859 108.39,860.63 108.81,859.76 C109.23,858.89 110.21,856.67 111.13,855.36 C112.04,854.05 113.43,852.84 114.3,851.89 C115.18,850.93 115.27,850.89 116.36,849.64 C117.45,848.39 119.82,845.46 120.84,844.36 C121.86,843.26 121.12,844.14 122.49,843.04 C123.86,841.94 127.72,838.77 129.06,837.76 C130.41,836.75 129.13,837.73 130.56,836.95 C131.99,836.18 136.41,833.79 137.66,833.12 C138.91,832.45 136.79,833.59 138.03,832.92 C139.28,832.25 142.54,830.5 145.13,829.1 C147.72,827.71 150.87,825.96 153.58,824.56 C156.29,823.16 159.75,821.54 161.39,820.73 C163.03,819.92 161.05,820.91 163.45,819.72 C165.84,818.53 171.88,815.1 175.78,813.56 C179.67,812.02 182.85,811.57 186.8,810.45 C190.76,809.34 194.68,808.21 199.51,806.87 C204.33,805.53 212.12,803.42 215.76,802.42 C219.41,801.43 218.01,801.62 221.37,800.89 C224.73,800.15 231.42,798.9 235.94,798 C240.46,797.11 244.89,796.24 248.5,795.52 C252.11,794.8 254.6,794.27 257.62,793.66 C260.63,793.04 263.6,792.79 266.59,791.82 C269.58,790.85 272.52,789.18 275.56,787.83 C278.59,786.48 281.73,785.47 284.79,783.73 C287.84,781.98 290.86,779.46 293.87,777.35 C296.87,775.24 299.78,773.65 302.84,771.06 C305.89,768.47 309.13,764.83 312.18,761.81 C315.23,758.79 318.16,755.74 321.15,752.93 C324.14,750.11 326.88,748.01 330.12,744.92 C333.35,741.83 338.15,736.81 340.58,734.36 C343.01,731.91 343.38,731.53 344.69,730.21 C346,728.89 346.62,727.77 348.43,726.44 C350.23,725.11 354.03,723.14 355.53,722.26 C357.02,721.38 355.59,721.81 357.4,721.16 C359.2,720.51 363.25,718.92 366.36,718.34 C369.48,717.77 374.24,717.84 376.08,717.72 C377.92,717.61 375.96,717.52 377.39,717.64 C378.82,717.76 383.34,718.29 384.68,718.44 C386.01,718.58 383.93,718.21 385.42,718.52 C386.92,718.83 390.78,719.55 393.64,720.28 C396.51,721.01 401.09,722.47 402.61,722.92 C404.14,723.37 401.24,722.64 402.8,722.96 C404.36,723.28 408.93,724.28 411.96,724.86 C414.98,725.44 417.93,726.13 420.92,726.44 C423.91,726.75 427.71,726.7 429.89,726.7 C432.07,726.71 431.76,726.61 434,726.49 C436.25,726.37 440.98,726.17 443.35,726 C445.71,725.83 445.9,725.71 448.2,725.44 C450.51,725.18 453.31,724.91 457.17,724.42 C461.03,723.92 468.32,722.91 471.37,722.48 C474.43,722.05 473.3,722.17 475.48,721.82 C477.66,721.46 480.78,720.99 484.45,720.37 C488.13,719.75 494.51,718.6 497.53,718.08 C500.56,717.56 500.25,717.64 502.62,717.26 C504.98,716.88 509.47,716.22 511.73,715.79 C514,715.36 513.23,715.42 516.22,714.67 C519.21,713.92 525.93,712.28 529.67,711.3 C533.41,710.33 536.21,709.6 538.64,708.84 C541.07,708.08 542.69,707.31 544.25,706.73 C545.8,706.14 546.11,706.14 547.98,705.32 C549.85,704.5 553.96,702.56 555.46,701.8 C556.95,701.04 555.77,701.58 556.95,700.76 C558.13,699.94 561.37,697.76 562.56,696.87 C563.74,695.99 563.37,696.11 564.05,695.46 C564.74,694.82 565.73,694.29 566.67,693 C567.6,691.71 568.6,689.77 569.66,687.72 C570.72,685.67 572.15,682.73 573.02,680.68 C573.89,678.63 574.58,676.28 574.89,675.4 L574.33,842.6 C574.2,842.6 573.77,841.76 573.58,842.6 C573.39,843.44 573.43,844.7 573.21,847.63 C572.99,850.56 572.52,857.05 572.27,860.2 C572.02,863.35 571.9,864.42 571.71,866.54 C571.53,868.65 571.39,870.76 571.15,872.87 C570.92,874.98 570.6,876.9 570.29,879.19 C569.98,881.47 569.83,883.59 569.28,886.6 C568.74,889.61 567.68,894.85 567.04,897.25 C566.4,899.65 566.06,899.54 565.43,900.99 C564.81,902.45 563.91,904.8 563.3,905.96 C562.7,907.12 562.56,906.96 561.81,907.95 C561.06,908.95 559.57,911.09 558.82,911.94 C558.07,912.8 558.51,912.18 557.33,913.09 C556.14,914 552.97,916.54 551.72,917.4 C550.47,918.26 551.41,917.54 549.85,918.26 C548.29,918.98 545.49,920.54 542.38,921.71 C539.26,922.89 535.21,924.1 531.17,925.32 C527.12,926.54 522.45,927.84 518.09,929.02 C513.73,930.19 509.12,931.26 505.01,932.36 C500.9,933.46 498.06,934.68 493.42,935.62 C488.79,936.55 482.12,937.58 477.2,937.99 C472.28,938.4 467.99,938.21 463.9,938.08 C459.81,937.95 456.11,937.27 452.69,937.2 C449.26,937.13 446.09,937.38 443.35,937.64 C440.61,937.9 438.74,938.34 436.25,938.78 C433.75,939.22 431.1,939.59 428.4,940.28 C425.7,940.97 422.83,941.75 420.03,942.92 C417.22,944.09 414.3,945.43 411.58,947.32 C408.87,949.21 406.41,951.62 403.73,954.27 C401.06,956.92 397.01,961.6 395.51,963.23 C394.02,964.85 396.14,962.54 394.77,964.04 C393.4,965.54 389.28,970.35 387.29,972.22 C385.3,974.1 383.93,974.51 382.81,975.27 C381.69,976.04 381.19,976.47 380.56,976.8 C379.94,977.13 380.13,976.93 379.07,977.23 C378.01,977.54 375.33,978.44 374.21,978.65 C373.09,978.85 373.28,978.56 372.34,978.47 C371.41,978.38 370.18,978.62 368.61,978.12 C367.03,977.62 365.19,976.8 362.89,975.48 C360.58,974.16 357.5,972.11 354.78,970.2 C352.06,968.29 348.99,966.2 346.56,964.04 C344.13,961.88 342.32,959.39 340.21,957.26 C338.09,955.14 335.53,952.86 333.85,951.28 C332.17,949.7 331.24,948.62 330.12,947.76 C328.99,946.9 328.51,946.88 327.13,946.12 C325.74,945.36 323.15,944 321.78,943.18 C320.41,942.37 320.26,942.14 318.9,941.22 C317.55,940.29 315.01,938.54 313.67,937.64 C312.34,936.74 312.28,936.73 310.91,935.83 C309.54,934.94 306.8,933.12 305.45,932.27 C304.11,931.43 304.21,931.55 302.84,930.76 C301.47,929.97 298.6,928.27 297.23,927.52 C295.86,926.77 295.98,926.93 294.61,926.29 C293.24,925.64 290.38,924.23 289.01,923.65 C287.64,923.06 287.76,923.23 286.39,922.78 C285.02,922.33 282.16,921.35 280.79,920.92 C279.42,920.49 279.5,920.57 278.17,920.2 C276.84,919.83 274.35,919.04 272.79,918.72 C271.23,918.4 270.24,918.45 268.83,918.31 C267.42,918.16 265.86,917.94 264.34,917.84 C262.82,917.74 261.02,917.77 259.71,917.74 C258.4,917.71 257.65,917.64 256.5,917.66 C255.34,917.69 254.13,917.79 252.76,917.86 C251.39,917.94 249.46,918 248.28,918.1 C247.09,918.2 247.03,918.28 245.66,918.47 C244.29,918.66 241.36,919.02 240.05,919.25 C238.75,919.48 239.12,919.5 237.81,919.85 C236.5,920.2 233.64,920.95 232.21,921.36 C230.77,921.77 230.62,921.88 229.22,922.33 C227.82,922.78 225.17,923.62 223.8,924.09 C222.43,924.56 222.71,924.5 221,925.14 C219.28,925.79 214.89,927.44 213.52,927.96 C212.15,928.48 214.27,927.68 212.77,928.24 C211.28,928.81 206.36,930.68 204.55,931.37 C202.75,932.05 203.28,931.94 201.94,932.36 C200.6,932.78 198.32,933.39 196.52,933.9 C194.71,934.41 193.82,934.67 191.1,935.44 C188.38,936.21 183.61,937.42 180.19,938.52 C176.76,939.62 172.28,941.41 170.55,942.04 C168.81,942.67 171.29,941.78 169.8,942.3 C168.3,942.81 163.01,944.64 161.58,945.12 C160.14,945.6 162.54,944.99 161.2,945.17 C159.87,945.35 155.39,945.95 153.58,946.19 C151.77,946.43 151.28,946.47 150.37,946.62 C149.46,946.76 149.43,946.8 148.12,947.07 C146.82,947.33 143.51,947.99 142.52,948.2 C141.52,948.41 143.03,948.04 142.14,948.32 C141.26,948.6 138.08,949.6 137.21,949.87 C136.34,950.14 137.73,949.77 136.91,949.93 C136.1,950.09 133.87,950.51 132.32,950.81 C130.76,951.11 128.55,951.53 127.57,951.72 C126.59,951.91 127.57,951.72 126.45,951.95 C125.33,952.19 122.77,952.65 120.84,953.13 C118.91,953.6 116.48,954.26 114.86,954.8 C113.24,955.34 112.04,955.94 111.13,956.38 C110.22,956.83 110.03,957.08 109.41,957.48 C108.79,957.87 108.1,958.11 107.39,958.76 C106.68,959.41 105.63,960.81 105.15,961.37 C104.67,961.92 104.89,961.48 104.51,962.1 C104.14,962.73 103.24,964.49 102.91,965.1 C102.58,965.72 102.8,965.21 102.53,965.8 C102.26,966.39 101.55,968.01 101.3,968.62 C101.05,969.22 101.27,968.71 101.04,969.42 C100.81,970.12 100.1,972.27 99.92,972.84" fill="none" stroke="#FF0000" stroke-width="2.3" stroke-linejoin="round"/>
<path d="M99.92,978.99 C100,974.67 100.28,959.69 100.44,953.08 C100.6,946.46 100.66,945.32 100.85,939.3 C101.04,933.29 101.39,923.06 101.6,917.01 C101.8,910.96 101.87,907.35 102.08,903 C102.3,898.65 102.64,894.2 102.91,890.91 C103.17,887.62 103.24,886.73 103.65,883.28 C104.07,879.84 104.99,873.2 105.41,870.24 C105.83,867.28 105.66,867.92 106.19,865.51 C106.72,863.11 108.15,857.55 108.59,855.81 C109.02,854.07 108.39,855.99 108.81,855.09 C109.23,854.19 110.21,851.97 111.13,850.42 C112.04,848.87 113.43,846.98 114.3,845.8 C115.18,844.63 115.27,844.7 116.36,843.37 C117.45,842.03 119.82,838.99 120.84,837.79 C121.86,836.59 121.12,837.38 122.49,836.18 C123.86,834.97 127.72,831.65 129.06,830.54 C130.41,829.44 129.13,830.37 130.56,829.54 C131.99,828.7 136.41,826.23 137.66,825.54 C138.91,824.84 136.79,825.96 138.03,825.36 C139.28,824.76 142.54,823.1 145.13,821.93 C147.72,820.76 150.87,819.45 153.58,818.34 C156.29,817.23 159.75,815.91 161.39,815.28 C163.03,814.64 161.05,815.42 163.45,814.52 C165.84,813.63 171.88,810.94 175.78,809.92 C179.67,808.9 182.85,808.98 186.8,808.4 C190.76,807.82 194.68,807.22 199.51,806.42 C204.33,805.62 212.12,804.27 215.76,803.6 C219.41,802.94 218.01,803.03 221.37,802.44 C224.73,801.85 231.42,800.88 235.94,800.05 C240.46,799.22 244.89,798.23 248.5,797.48 C252.11,796.72 254.6,796.2 257.62,795.51 C260.63,794.81 263.6,794.34 266.59,793.29 C269.58,792.24 272.52,790.62 275.56,789.2 C278.59,787.77 281.73,786.59 284.79,784.76 C287.84,782.93 290.86,780.39 293.87,778.23 C296.87,776.08 299.78,774.41 302.84,771.82 C305.89,769.23 309.13,765.67 312.18,762.68 C315.23,759.7 318.16,756.7 321.15,753.93 C324.14,751.15 326.88,749.08 330.12,746.03 C333.35,742.98 338.15,738.03 340.58,735.61 C343.01,733.19 343.38,732.82 344.69,731.52 C346,730.22 346.62,729.13 348.43,727.81 C350.23,726.48 354.03,724.45 355.53,723.57 C357.02,722.68 355.59,723.14 357.4,722.48 C359.2,721.81 363.25,720.17 366.36,719.57 C369.48,718.98 374.24,719.03 376.08,718.91 C377.92,718.78 375.96,718.72 377.39,718.83 C378.82,718.94 383.34,719.44 384.68,719.58 C386.01,719.72 383.93,719.37 385.42,719.67 C386.92,719.97 390.78,720.67 393.64,721.38 C396.51,722.09 401.09,723.5 402.61,723.93 C404.14,724.36 401.24,723.66 402.8,723.96 C404.36,724.27 408.93,725.23 411.96,725.78 C414.98,726.34 417.93,727.01 420.92,727.31 C423.91,727.6 427.71,727.53 429.89,727.53 C432.07,727.53 431.76,727.44 434,727.32 C436.25,727.2 440.98,726.98 443.35,726.8 C445.71,726.62 445.9,726.51 448.2,726.25 C450.51,725.98 453.31,725.71 457.17,725.22 C461.03,724.73 468.32,723.73 471.37,723.31 C474.43,722.88 473.3,723 475.48,722.65 C477.66,722.31 480.78,721.85 484.45,721.24 C488.13,720.63 494.51,719.51 497.53,719.01 C500.56,718.5 500.25,718.58 502.62,718.21 C504.98,717.83 509.47,717.18 511.73,716.76 C514,716.33 513.23,716.4 516.22,715.67 C519.21,714.93 525.93,713.3 529.67,712.33 C533.41,711.37 536.21,710.63 538.64,709.88 C541.07,709.12 542.69,708.39 544.25,707.81 C545.8,707.22 546.11,707.21 547.98,706.39 C549.85,705.57 553.96,703.65 555.46,702.9 C556.95,702.15 555.77,702.7 556.95,701.89 C558.13,701.07 561.37,698.89 562.56,698.02 C563.74,697.14 563.37,697.28 564.05,696.64 C564.74,695.99 565.73,695.44 566.67,694.17 C567.6,692.9 568.6,691.03 569.66,689.03 C570.72,687.03 572.15,684.17 573.02,682.16 C573.89,680.15 574.58,677.82 574.89,676.96 L574.33,842.6 C574.2,842.6 573.77,841.89 573.58,842.6 C573.39,843.31 573.43,844.27 573.21,846.87 C572.99,849.48 572.52,855.37 572.27,858.22 C572.02,861.07 571.9,862.07 571.71,864 C571.53,865.93 571.39,867.83 571.15,869.79 C570.92,871.76 570.6,873.65 570.29,875.78 C569.98,877.92 569.83,879.76 569.28,882.6 C568.74,885.43 567.68,890.42 567.04,892.78 C566.4,895.14 566.06,895.28 565.43,896.78 C564.81,898.27 563.91,900.54 563.3,901.74 C562.7,902.94 562.56,902.92 561.81,903.96 C561.06,905 559.57,907.08 558.82,907.97 C558.07,908.85 558.51,908.33 557.33,909.25 C556.14,910.17 552.97,912.64 551.72,913.51 C550.47,914.37 551.41,913.7 549.85,914.44 C548.29,915.17 545.49,916.73 542.38,917.92 C539.26,919.12 535.21,920.39 531.17,921.62 C527.12,922.86 522.45,924.16 518.09,925.35 C513.73,926.53 509.12,927.61 505.01,928.73 C500.9,929.85 498.06,931.08 493.42,932.07 C488.79,933.05 482.12,934.15 477.2,934.63 C472.28,935.1 467.99,934.97 463.9,934.91 C459.81,934.85 456.11,934.28 452.69,934.27 C449.26,934.26 446.09,934.56 443.35,934.85 C440.61,935.13 438.74,935.51 436.25,935.97 C433.75,936.44 431.1,936.89 428.4,937.64 C425.7,938.39 422.83,939.24 420.03,940.48 C417.22,941.72 414.3,943.14 411.58,945.08 C408.87,947.01 406.41,949.35 403.73,952.07 C401.06,954.78 397.01,959.68 395.51,961.37 C394.02,963.05 396.14,960.69 394.77,962.18 C393.4,963.67 389.28,968.47 387.29,970.34 C385.3,972.2 383.93,972.66 382.81,973.39 C381.69,974.12 381.19,974.44 380.56,974.74 C379.94,975.03 380.13,974.9 379.07,975.14 C378.01,975.38 375.33,976.05 374.21,976.19 C373.09,976.33 373.28,976.1 372.34,975.98 C371.41,975.85 370.18,975.95 368.61,975.42 C367.03,974.89 365.19,974.13 362.89,972.79 C360.58,971.44 357.5,969.31 354.78,967.36 C352.06,965.42 348.99,963.28 346.56,961.11 C344.13,958.94 342.32,956.48 340.21,954.32 C338.09,952.17 335.53,949.78 333.85,948.18 C332.17,946.57 331.24,945.57 330.12,944.69 C328.99,943.82 328.51,943.72 327.13,942.91 C325.74,942.09 323.15,940.64 321.78,939.79 C320.41,938.93 320.26,938.71 318.9,937.78 C317.55,936.84 315.01,935.09 313.67,934.19 C312.34,933.29 312.28,933.26 310.91,932.37 C309.54,931.48 306.8,929.68 305.45,928.83 C304.11,927.99 304.21,928.08 302.84,927.3 C301.47,926.53 298.6,924.9 297.23,924.17 C295.86,923.45 295.98,923.58 294.61,922.95 C293.24,922.31 290.38,920.94 289.01,920.36 C287.64,919.78 287.76,919.92 286.39,919.47 C285.02,919.01 282.16,918.05 280.79,917.61 C279.42,917.18 279.5,917.23 278.17,916.88 C276.84,916.52 274.35,915.81 272.79,915.5 C271.23,915.2 270.24,915.21 268.83,915.07 C267.42,914.92 265.86,914.73 264.34,914.63 C262.82,914.54 261.02,914.53 259.71,914.5 C258.4,914.48 257.65,914.44 256.5,914.46 C255.34,914.49 254.13,914.57 252.76,914.65 C251.39,914.74 249.46,914.84 248.28,914.96 C247.09,915.07 247.03,915.13 245.66,915.32 C244.29,915.52 241.36,915.91 240.05,916.14 C238.75,916.37 239.12,916.36 237.81,916.71 C236.5,917.06 233.64,917.82 232.21,918.23 C230.77,918.64 230.62,918.71 229.22,919.17 C227.82,919.64 225.17,920.52 223.8,921 C222.43,921.48 222.71,921.41 221,922.07 C219.28,922.73 214.89,924.43 213.52,924.97 C212.15,925.5 214.27,924.64 212.77,925.26 C211.28,925.88 206.36,927.92 204.55,928.68 C202.75,929.44 203.28,929.3 201.94,929.81 C200.6,930.31 198.32,931.09 196.52,931.7 C194.71,932.32 193.82,932.6 191.1,933.5 C188.38,934.4 183.61,935.89 180.19,937.09 C176.76,938.3 172.28,940.11 170.55,940.75 C168.81,941.39 171.29,940.5 169.8,940.94 C168.3,941.37 163.01,942.95 161.58,943.36 C160.14,943.78 162.54,943.03 161.2,943.45 C159.87,943.88 155.39,945.19 153.58,945.91 C151.77,946.62 151.28,947.18 150.37,947.74 C149.46,948.29 149.43,948.24 148.12,949.25 C146.82,950.25 143.51,952.96 142.52,953.77 C141.52,954.57 143.03,953.5 142.14,954.07 C141.26,954.63 138.08,956.62 137.21,957.17 C136.34,957.71 137.73,957.05 136.91,957.35 C136.1,957.64 133.87,958.59 132.32,958.93 C130.76,959.27 128.55,959.3 127.57,959.4 C126.59,959.49 127.57,959.45 126.45,959.51 C125.33,959.57 122.77,959.42 120.84,959.75 C118.91,960.08 116.48,960.79 114.86,961.49 C113.24,962.18 112.04,963.32 111.13,963.93 C110.22,964.53 110.03,964.57 109.41,965.12 C108.79,965.67 108.1,966.46 107.39,967.25 C106.68,968.03 105.63,969.2 105.15,969.84 C104.67,970.48 104.89,970.32 104.51,971.09 C104.14,971.86 103.24,973.65 102.91,974.46 C102.58,975.27 102.8,974.86 102.53,975.94 C102.26,977.01 101.55,979.9 101.3,980.91 C101.05,981.93 101.27,980.62 101.04,982.01 C100.81,983.4 100.1,988.04 99.92,989.24" fill="none" stroke="#C00000" stroke-width="2.2" stroke-linejoin="round"/>
<path d="M99.92,984.73 C100,979.3 100.28,959.7 100.44,952.11 C100.6,944.53 100.66,945 100.85,939.21 C101.04,933.43 101.39,923.25 101.6,917.41 C101.8,911.57 101.87,908.96 102.08,904.18 C102.3,899.41 102.64,892.58 102.91,888.76 C103.17,884.94 103.24,884.96 103.65,881.26 C104.07,877.55 104.99,869.73 105.41,866.54 C105.83,863.35 105.66,864.62 106.19,862.1 C106.72,859.57 108.15,853.26 108.59,851.37 C109.02,849.48 108.39,851.66 108.81,850.73 C109.23,849.81 110.21,847.57 111.13,845.8 C112.04,844.04 113.43,841.5 114.3,840.12 C115.18,838.74 115.27,838.92 116.36,837.51 C117.45,836.1 119.82,832.95 120.84,831.66 C121.86,830.37 121.12,831.08 122.49,829.77 C123.86,828.46 127.72,825 129.06,823.81 C130.41,822.62 129.13,823.51 130.56,822.62 C131.99,821.73 136.41,819.18 137.66,818.46 C138.91,817.74 136.79,818.83 138.03,818.3 C139.28,817.76 142.54,816.2 145.13,815.24 C147.72,814.28 150.87,813.38 153.58,812.54 C156.29,811.69 159.75,810.67 161.39,810.19 C163.03,809.71 161.05,810.28 163.45,809.67 C165.84,809.06 171.88,807.05 175.78,806.52 C179.67,805.99 182.85,806.57 186.8,806.49 C190.76,806.4 194.68,806.28 199.51,806 C204.33,805.73 212.12,805.13 215.76,804.82 C219.41,804.5 218.01,804.49 221.37,804.11 C224.73,803.73 231.42,803.21 235.94,802.57 C240.46,801.92 244.89,800.93 248.5,800.24 C252.11,799.56 254.6,799.17 257.62,798.46 C260.63,797.75 263.6,797.03 266.59,795.98 C269.58,794.93 272.52,793.52 275.56,792.15 C278.59,790.78 281.73,789.46 284.79,787.76 C287.84,786.06 290.86,784.02 293.87,781.94 C296.87,779.86 299.78,777.85 302.84,775.28 C305.89,772.71 309.13,769.39 312.18,766.54 C315.23,763.69 318.16,760.85 321.15,758.2 C324.14,755.55 326.88,753.58 330.12,750.65 C333.35,747.73 338.15,742.98 340.58,740.66 C343.01,738.34 343.38,737.96 344.69,736.72 C346,735.48 346.62,734.55 348.43,733.2 C350.23,731.84 354.03,729.55 355.53,728.6 C357.02,727.66 355.59,728.27 357.4,727.53 C359.2,726.79 363.25,724.85 366.36,724.15 C369.48,723.45 374.24,723.46 376.08,723.31 C377.92,723.17 375.96,723.17 377.39,723.27 C378.82,723.38 383.34,723.82 384.68,723.95 C386.01,724.08 383.93,723.76 385.42,724.05 C386.92,724.33 390.78,725.03 393.64,725.68 C396.51,726.33 401.09,727.57 402.61,727.96 C404.14,728.34 401.24,727.72 402.8,727.99 C404.36,728.26 408.93,729.09 411.96,729.58 C414.98,730.07 417.93,730.69 420.92,730.94 C423.91,731.19 427.71,731.08 429.89,731.08 C432.07,731.08 431.76,731.04 434,730.92 C436.25,730.8 440.98,730.53 443.35,730.35 C445.71,730.17 445.9,730.09 448.2,729.85 C450.51,729.61 453.31,729.34 457.17,728.9 C461.03,728.46 468.32,727.57 471.37,727.2 C474.43,726.82 473.3,726.93 475.48,726.64 C477.66,726.35 480.78,725.97 484.45,725.44 C488.13,724.92 494.51,723.94 497.53,723.49 C500.56,723.05 500.25,723.13 502.62,722.78 C504.98,722.44 509.47,721.8 511.73,721.42 C514,721.03 513.23,721.17 516.22,720.48 C519.21,719.8 525.93,718.24 529.67,717.31 C533.41,716.38 536.21,715.61 538.64,714.89 C541.07,714.18 542.69,713.57 544.25,713.01 C545.8,712.46 546.11,712.36 547.98,711.56 C549.85,710.76 553.96,708.91 555.46,708.2 C556.95,707.5 555.77,708.09 556.95,707.32 C558.13,706.54 561.37,704.38 562.56,703.55 C563.74,702.71 563.37,702.92 564.05,702.3 C564.74,701.68 565.73,700.97 566.67,699.81 C567.6,698.65 568.6,697.11 569.66,695.36 C570.72,693.61 572.15,691.12 573.02,689.3 C573.89,687.49 574.58,685.29 574.89,684.49 L574.33,842.6 C574.2,842.6 573.77,842 573.58,842.6 C573.39,843.2 573.43,843.9 573.21,846.22 C572.99,848.54 572.52,853.91 572.27,856.5 C572.02,859.1 571.9,860.03 571.71,861.81 C571.53,863.58 571.39,865.29 571.15,867.13 C570.92,868.96 570.6,870.84 570.29,872.84 C569.98,874.84 569.83,876.45 569.28,879.12 C568.74,881.8 567.68,886.57 567.04,888.91 C566.4,891.24 566.06,891.59 565.43,893.12 C564.81,894.65 563.91,896.86 563.3,898.09 C562.7,899.31 562.56,899.42 561.81,900.5 C561.06,901.57 559.57,903.62 558.82,904.52 C558.07,905.42 558.51,904.99 557.33,905.92 C556.14,906.86 552.97,909.26 551.72,910.13 C550.47,911 551.41,910.37 549.85,911.12 C548.29,911.87 545.49,913.42 542.38,914.64 C539.26,915.86 535.21,917.17 531.17,918.42 C527.12,919.68 522.45,920.97 518.09,922.17 C513.73,923.36 509.12,924.45 505.01,925.58 C500.9,926.72 498.06,927.97 493.42,928.99 C488.79,930.01 482.12,931.18 477.2,931.71 C472.28,932.24 467.99,932.16 463.9,932.17 C459.81,932.17 456.11,931.69 452.69,931.73 C449.26,931.77 446.09,932.12 443.35,932.42 C440.61,932.73 438.74,933.05 436.25,933.54 C433.75,934.02 431.1,934.58 428.4,935.35 C425.7,936.12 422.83,936.94 420.03,938.17 C417.22,939.4 414.3,940.83 411.58,942.73 C408.87,944.63 406.41,946.84 403.73,949.56 C401.06,952.28 397.01,957.35 395.51,959.07 C394.02,960.79 396.14,958.41 394.77,959.87 C393.4,961.32 389.28,966 387.29,967.82 C385.3,969.64 383.93,970.11 382.81,970.78 C381.69,971.45 381.19,971.59 380.56,971.82 C379.94,972.04 380.13,972.02 379.07,972.13 C378.01,972.25 375.33,972.51 374.21,972.52 C373.09,972.53 373.28,972.41 372.34,972.21 C371.41,972 370.18,971.88 368.61,971.29 C367.03,970.69 365.19,970.04 362.89,968.66 C360.58,967.28 357.5,965.02 354.78,963.01 C352.06,961 348.99,958.82 346.56,956.62 C344.13,954.42 342.32,952.01 340.21,949.81 C338.09,947.61 335.53,945.06 333.85,943.42 C332.17,941.79 331.24,940.9 330.12,939.99 C328.99,939.09 328.51,938.88 327.13,937.98 C325.74,937.08 323.15,935.49 321.78,934.57 C320.41,933.66 320.26,933.45 318.9,932.5 C317.55,931.56 315.01,929.81 313.67,928.9 C312.34,928 312.28,927.95 310.91,927.06 C309.54,926.17 306.8,924.4 305.45,923.56 C304.11,922.72 304.21,922.76 302.84,922 C301.47,921.25 298.6,919.73 297.23,919.04 C295.86,918.34 295.98,918.45 294.61,917.83 C293.24,917.21 290.38,915.9 289.01,915.32 C287.64,914.75 287.76,914.85 286.39,914.38 C285.02,913.92 282.16,912.98 280.79,912.54 C279.42,912.11 279.5,912.11 278.17,911.78 C276.84,911.45 274.35,910.85 272.79,910.57 C271.23,910.29 270.24,910.25 268.83,910.1 C267.42,909.96 265.86,909.81 264.34,909.72 C262.82,909.62 261.02,909.58 259.71,909.55 C258.4,909.52 257.65,909.52 256.5,909.55 C255.34,909.58 254.13,909.63 252.76,909.73 C251.39,909.83 249.46,910 248.28,910.13 C247.09,910.26 247.03,910.3 245.66,910.5 C244.29,910.71 241.36,911.14 240.05,911.37 C238.75,911.6 239.12,911.56 237.81,911.9 C236.5,912.24 233.64,913.02 232.21,913.42 C230.77,913.83 230.62,913.86 229.22,914.34 C227.82,914.81 225.17,915.76 223.8,916.26 C222.43,916.77 222.71,916.67 221,917.35 C219.28,918.04 214.89,919.82 213.52,920.38 C212.15,920.93 214.27,919.98 212.77,920.68 C211.28,921.38 206.36,923.69 204.55,924.55 C202.75,925.42 203.28,925.26 201.94,925.89 C200.6,926.52 198.32,927.56 196.52,928.33 C194.71,929.1 193.82,929.42 191.1,930.52 C188.38,931.61 183.61,933.46 180.19,934.91 C176.76,936.35 172.28,938.43 170.55,939.19 C168.81,939.94 171.29,938.91 169.8,939.41 C168.3,939.91 163.01,941.72 161.58,942.21 C160.14,942.7 162.54,941.74 161.2,942.34 C159.87,942.93 155.39,944.78 153.58,945.77 C151.77,946.76 151.28,947.52 150.37,948.26 C149.46,949 149.43,948.77 148.12,950.21 C146.82,951.65 143.51,955.72 142.52,956.9 C141.52,958.08 143.03,956.57 142.14,957.3 C141.26,958.03 138.08,960.57 137.21,961.27 C136.34,961.97 137.73,961.15 136.91,961.52 C136.1,961.89 133.87,963.13 132.32,963.5 C130.76,963.86 128.55,963.67 127.57,963.71 C126.59,963.76 127.57,963.8 126.45,963.76 C125.33,963.72 122.77,963.22 120.84,963.47 C118.91,963.72 116.48,964.47 114.86,965.25 C113.24,966.03 112.04,967.47 111.13,968.17 C110.22,968.86 110.03,968.87 109.41,969.42 C108.79,969.97 108.1,970.84 107.39,971.49 C106.68,972.13 105.63,972.78 105.15,973.28 C104.67,973.79 104.89,973.81 104.51,974.5 C104.14,975.18 103.24,976.64 102.91,977.38 C102.58,978.13 102.8,977.85 102.53,978.95 C102.26,980.05 101.55,982.95 101.3,983.99 C101.05,985.03 101.27,983.6 101.04,985.16 C100.81,986.72 100.1,991.98 99.92,993.34" fill="none" stroke="#00B0F0" stroke-width="2.2" stroke-linejoin="round"/>
<path d="M99.92,986.58 C100,980.78 100.28,959.7 100.44,951.8 C100.6,943.9 100.66,944.9 100.85,939.19 C101.04,933.47 101.39,923.31 101.6,917.54 C101.8,911.77 101.87,909.47 102.08,904.56 C102.3,899.65 102.64,892.07 102.91,888.07 C103.17,884.08 103.24,884.39 103.65,880.6 C104.07,876.82 104.99,868.62 105.41,865.35 C105.83,862.08 105.66,863.57 106.19,861 C106.72,858.43 108.15,851.89 108.59,849.94 C109.02,848 108.39,850.27 108.81,849.33 C109.23,848.4 110.21,846.16 111.13,844.32 C112.04,842.48 113.43,839.74 114.3,838.29 C115.18,836.85 115.27,837.06 116.36,835.63 C117.45,834.19 119.82,831.01 120.84,829.69 C121.86,828.37 121.12,829.05 122.49,827.71 C123.86,826.37 127.72,822.86 129.06,821.64 C130.41,820.43 129.13,821.31 130.56,820.4 C131.99,819.49 136.41,816.91 137.66,816.18 C138.91,815.46 136.79,816.54 138.03,816.03 C139.28,815.51 142.54,813.98 145.13,813.09 C147.72,812.19 150.87,811.43 153.58,810.67 C156.29,809.91 159.75,808.98 161.39,808.56 C163.03,808.13 161.05,808.64 163.45,808.11 C165.84,807.59 171.88,805.8 175.78,805.42 C179.67,805.05 182.85,805.8 186.8,805.87 C190.76,805.95 194.68,805.97 199.51,805.87 C204.33,805.77 212.12,805.45 215.76,805.27 C219.41,805.08 218.01,805.02 221.37,804.76 C224.73,804.5 231.42,804.21 235.94,803.69 C240.46,803.16 244.89,802.22 248.5,801.61 C252.11,801 254.6,800.72 257.62,800.03 C260.63,799.35 263.6,798.53 266.59,797.52 C269.58,796.5 272.52,795.3 275.56,793.96 C278.59,792.63 281.73,791.17 284.79,789.51 C287.84,787.84 290.86,786.01 293.87,783.95 C296.87,781.9 299.78,779.71 302.84,777.16 C305.89,774.62 309.13,771.43 312.18,768.68 C315.23,765.92 318.16,763.18 321.15,760.62 C324.14,758.06 326.88,756.15 330.12,753.32 C333.35,750.49 338.15,745.89 340.58,743.64 C343.01,741.39 343.38,741.03 344.69,739.83 C346,738.63 346.62,737.8 348.43,736.44 C350.23,735.09 354.03,732.65 355.53,731.69 C357.02,730.72 355.59,731.42 357.4,730.64 C359.2,729.86 363.25,727.77 366.36,727.03 C369.48,726.28 374.24,726.3 376.08,726.16 C377.92,726.01 375.96,726.04 377.39,726.15 C378.82,726.27 383.34,726.7 384.68,726.83 C386.01,726.97 383.93,726.65 385.42,726.94 C386.92,727.23 390.78,727.94 393.64,728.57 C396.51,729.21 401.09,730.36 402.61,730.72 C404.14,731.09 401.24,730.51 402.8,730.76 C404.36,731.01 408.93,731.78 411.96,732.24 C414.98,732.7 417.93,733.28 420.92,733.52 C423.91,733.75 427.71,733.64 429.89,733.65 C432.07,733.65 431.76,733.65 434,733.54 C436.25,733.42 440.98,733.14 443.35,732.97 C445.71,732.8 445.9,732.74 448.2,732.53 C450.51,732.31 453.31,732.05 457.17,731.68 C461.03,731.31 468.32,730.62 471.37,730.32 C474.43,730.02 473.3,730.1 475.48,729.88 C477.66,729.67 480.78,729.37 484.45,729.01 C488.13,728.65 494.51,728.01 497.53,727.71 C500.56,727.41 500.25,727.5 502.62,727.2 C504.98,726.9 509.47,726.26 511.73,725.91 C514,725.57 513.23,725.77 516.22,725.13 C519.21,724.5 525.93,723.01 529.67,722.11 C533.41,721.22 536.21,720.42 538.64,719.74 C541.07,719.06 542.69,718.57 544.25,718.04 C545.8,717.51 546.11,717.34 547.98,716.55 C549.85,715.77 553.96,713.99 555.46,713.33 C556.95,712.66 555.77,713.3 556.95,712.56 C558.13,711.82 561.37,709.69 562.56,708.89 C563.74,708.09 563.37,708.38 564.05,707.77 C564.74,707.17 565.73,706.31 566.67,705.26 C567.6,704.21 568.6,702.98 569.66,701.47 C570.72,699.96 572.15,697.82 573.02,696.2 C573.89,694.58 574.58,692.5 574.89,691.75 L574.33,842.6 C574.2,842.6 573.77,842.18 573.58,842.6 C573.39,843.02 573.43,843.28 573.21,845.11 C572.99,846.95 572.52,851.44 572.27,853.6 C572.02,855.76 571.9,856.59 571.71,858.09 C571.53,859.59 571.39,860.98 571.15,862.61 C570.92,864.24 570.6,866.07 570.29,867.85 C569.98,869.62 569.83,870.83 569.28,873.25 C568.74,875.67 567.68,880.07 567.04,882.35 C566.4,884.63 566.06,885.34 565.43,886.93 C564.81,888.52 563.91,890.61 563.3,891.9 C562.7,893.18 562.56,893.51 561.81,894.64 C561.06,895.77 559.57,897.74 558.82,898.69 C558.07,899.63 558.51,899.33 557.33,900.29 C556.14,901.24 552.97,903.55 551.72,904.42 C550.47,905.29 551.41,904.73 549.85,905.51 C548.29,906.29 545.49,907.84 542.38,909.08 C539.26,910.33 535.21,911.72 531.17,913 C527.12,914.28 522.45,915.57 518.09,916.78 C513.73,917.99 509.12,919.09 505.01,920.26 C500.9,921.43 498.06,922.69 493.42,923.78 C488.79,924.87 482.12,926.15 477.2,926.77 C472.28,927.4 467.99,927.41 463.9,927.52 C459.81,927.63 456.11,927.3 452.69,927.43 C449.26,927.57 446.09,928 443.35,928.33 C440.61,928.66 438.74,928.89 436.25,929.41 C433.75,929.94 431.1,930.6 428.4,931.48 C425.7,932.36 422.83,933.31 420.03,934.67 C417.22,936.02 414.3,937.62 411.58,939.6 C408.87,941.58 406.41,943.73 403.73,946.57 C401.06,949.4 397.01,954.81 395.51,956.62 C394.02,958.43 396.14,955.95 394.77,957.42 C393.4,958.88 389.28,963.57 387.29,965.4 C385.3,967.24 383.93,967.77 382.81,968.41 C381.69,969.05 381.19,969.05 380.56,969.24 C379.94,969.43 380.13,969.48 379.07,969.53 C378.01,969.58 375.33,969.58 374.21,969.52 C373.09,969.46 373.28,969.44 372.34,969.19 C371.41,968.95 370.18,968.68 368.61,968.05 C367.03,967.42 365.19,966.83 362.89,965.43 C360.58,964.02 357.5,961.66 354.78,959.6 C352.06,957.55 348.99,955.32 346.56,953.1 C344.13,950.88 342.32,948.51 340.21,946.27 C338.09,944.04 335.53,941.36 333.85,939.7 C332.17,938.04 331.24,937.24 330.12,936.32 C328.99,935.39 328.51,935.1 327.13,934.13 C325.74,933.16 323.15,931.46 321.78,930.5 C320.41,929.54 320.26,929.33 318.9,928.37 C317.55,927.42 315.01,925.68 313.67,924.77 C312.34,923.86 312.28,923.79 310.91,922.9 C309.54,922.01 306.8,920.27 305.45,919.43 C304.11,918.59 304.21,918.59 302.84,917.86 C301.47,917.12 298.6,915.69 297.23,915.02 C295.86,914.35 295.98,914.43 294.61,913.82 C293.24,913.21 290.38,911.95 289.01,911.38 C287.64,910.81 287.76,910.87 286.39,910.4 C285.02,909.94 282.16,909.01 280.79,908.58 C279.42,908.14 279.5,908.1 278.17,907.79 C276.84,907.48 274.35,906.98 272.79,906.71 C271.23,906.45 270.24,906.36 268.83,906.22 C267.42,906.08 265.86,905.96 264.34,905.87 C262.82,905.78 261.02,905.7 259.71,905.67 C258.4,905.64 257.65,905.67 256.5,905.71 C255.34,905.74 254.13,905.77 252.76,905.88 C251.39,905.98 249.46,906.21 248.28,906.35 C247.09,906.5 247.03,906.52 245.66,906.73 C244.29,906.95 241.36,907.41 240.05,907.64 C238.75,907.87 239.12,907.79 237.81,908.13 C236.5,908.47 233.64,909.26 232.21,909.66 C230.77,910.06 230.62,910.07 229.22,910.55 C227.82,911.03 225.17,912.04 223.8,912.56 C222.43,913.08 222.71,912.96 221,913.66 C219.28,914.37 214.89,916.21 213.52,916.78 C212.15,917.35 214.27,916.34 212.77,917.1 C211.28,917.85 206.36,920.37 204.55,921.33 C202.75,922.28 203.28,922.1 201.94,922.82 C200.6,923.55 198.32,924.8 196.52,925.69 C194.71,926.59 193.82,926.94 191.1,928.19 C188.38,929.44 183.61,931.54 180.19,933.2 C176.76,934.85 172.28,937.25 170.55,938.12 C168.81,938.99 171.29,937.8 169.8,938.43 C168.3,939.05 163.01,941.28 161.58,941.88 C160.14,942.48 162.54,941.39 161.2,942.04 C159.87,942.68 155.39,944.74 153.58,945.77 C151.77,946.8 151.28,947.5 150.37,948.22 C149.46,948.93 149.43,948.74 148.12,950.07 C146.82,951.4 143.51,955.12 142.52,956.2 C141.52,957.29 143.03,955.89 142.14,956.58 C141.26,957.27 138.08,959.69 137.21,960.36 C136.34,961.02 137.73,960.24 136.91,960.59 C136.1,960.94 133.87,962.12 132.32,962.48 C130.76,962.84 128.55,962.7 127.57,962.76 C126.59,962.81 127.57,962.84 126.45,962.82 C125.33,962.8 122.77,962.37 120.84,962.64 C118.91,962.91 116.48,963.65 114.86,964.41 C113.24,965.18 112.04,966.55 111.13,967.23 C110.22,967.9 110.03,967.9 109.41,968.47 C108.79,969.03 108.1,969.92 107.39,970.64 C106.68,971.35 105.63,972.19 105.15,972.75 C104.67,973.32 104.89,973.3 104.51,974.03 C104.14,974.76 103.24,976.36 102.91,977.15 C102.58,977.94 102.8,977.62 102.53,978.76 C102.26,979.9 101.55,982.92 101.3,983.99 C101.05,985.06 101.27,983.6 101.04,985.16 C100.81,986.72 100.1,991.98 99.92,993.34" fill="none" stroke="#0070C0" stroke-width="2.2" stroke-linejoin="round"/>
<path d="M99.92,988.63 C100,982.43 100.28,959.7 100.44,951.46 C100.6,943.21 100.66,944.78 100.85,939.15 C101.04,933.52 101.39,923.38 101.6,917.68 C101.8,911.99 101.87,910.05 102.08,904.98 C102.3,899.92 102.64,891.49 102.91,887.31 C103.17,883.12 103.24,883.76 103.65,879.88 C104.07,876 104.99,867.38 105.41,864.03 C105.83,860.68 105.66,862.39 106.19,859.78 C106.72,857.17 108.15,850.36 108.59,848.36 C109.02,846.36 108.39,848.72 108.81,847.78 C109.23,846.83 110.21,844.59 111.13,842.67 C112.04,840.76 113.43,837.79 114.3,836.27 C115.18,834.74 115.27,835 116.36,833.54 C117.45,832.08 119.82,828.85 120.84,827.5 C121.86,826.14 121.12,826.8 122.49,825.42 C123.86,824.05 127.72,820.49 129.06,819.24 C130.41,817.99 129.13,818.85 130.56,817.92 C131.99,816.99 136.41,814.39 137.66,813.65 C138.91,812.92 136.79,814 138.03,813.51 C139.28,813.01 142.54,811.52 145.13,810.7 C147.72,809.88 150.87,809.26 153.58,808.6 C156.29,807.94 159.75,807.11 161.39,806.74 C163.03,806.37 161.05,806.8 163.45,806.38 C165.84,805.96 171.88,804.41 175.78,804.21 C179.67,804.01 182.85,804.94 186.8,805.19 C190.76,805.44 194.68,805.63 199.51,805.72 C204.33,805.81 212.12,805.78 215.76,805.73 C219.41,805.68 218.01,805.58 221.37,805.41 C224.73,805.24 231.42,805.16 235.94,804.73 C240.46,804.3 244.89,803.38 248.5,802.82 C252.11,802.26 254.6,802.05 257.62,801.38 C260.63,800.71 263.6,799.78 266.59,798.79 C269.58,797.8 272.52,796.73 275.56,795.42 C278.59,794.11 281.73,792.57 284.79,790.94 C287.84,789.31 290.86,787.68 293.87,785.66 C296.87,783.63 299.78,781.31 302.84,778.8 C305.89,776.29 309.13,773.25 312.18,770.59 C315.23,767.94 318.16,765.3 321.15,762.85 C324.14,760.39 326.88,758.57 330.12,755.85 C333.35,753.14 338.15,748.72 340.58,746.56 C343.01,744.41 343.38,744.05 344.69,742.91 C346,741.76 346.62,741.04 348.43,739.7 C350.23,738.36 354.03,735.82 355.53,734.85 C357.02,733.87 355.59,734.64 357.4,733.85 C359.2,733.05 363.25,730.87 366.36,730.08 C369.48,729.28 374.24,729.24 376.08,729.08 C377.92,728.91 375.96,728.99 377.39,729.08 C378.82,729.16 383.34,729.5 384.68,729.6 C386.01,729.71 383.93,729.44 385.42,729.71 C386.92,729.97 390.78,730.62 393.64,731.18 C396.51,731.73 401.09,732.73 402.61,733.05 C404.14,733.37 401.24,732.87 402.8,733.08 C404.36,733.3 408.93,733.94 411.96,734.33 C414.98,734.72 417.93,735.25 420.92,735.43 C423.91,735.61 427.71,735.45 429.89,735.43 C432.07,735.41 431.76,735.44 434,735.31 C436.25,735.17 440.98,734.82 443.35,734.63 C445.71,734.45 445.9,734.4 448.2,734.18 C450.51,733.95 453.31,733.65 457.17,733.3 C461.03,732.95 468.32,732.33 471.37,732.06 C474.43,731.79 473.3,731.86 475.48,731.68 C477.66,731.49 480.78,731.24 484.45,730.93 C488.13,730.63 494.51,730.1 497.53,729.85 C500.56,729.6 500.25,729.69 502.62,729.41 C504.98,729.13 509.47,728.49 511.73,728.16 C514,727.84 513.23,728.07 516.22,727.46 C519.21,726.85 525.93,725.4 529.67,724.52 C533.41,723.63 536.21,722.82 538.64,722.16 C541.07,721.5 542.69,721.07 544.25,720.55 C545.8,720.03 546.11,719.83 547.98,719.05 C549.85,718.27 553.96,716.54 555.46,715.89 C556.95,715.25 555.77,715.9 556.95,715.18 C558.13,714.46 561.37,712.34 562.56,711.56 C563.74,710.78 563.37,711.1 564.05,710.51 C564.74,709.91 565.73,708.98 566.67,707.98 C567.6,706.98 568.6,705.91 569.66,704.52 C570.72,703.14 572.15,701.18 573.02,699.65 C573.89,698.13 574.58,696.1 574.89,695.39 L574.33,842.6 C574.2,842.6 573.77,842.23 573.58,842.6 C573.39,842.97 573.43,843.11 573.21,844.81 C572.99,846.51 572.52,850.76 572.27,852.81 C572.02,854.85 571.9,855.65 571.71,857.07 C571.53,858.5 571.39,859.81 571.15,861.38 C570.92,862.95 570.6,864.77 570.29,866.48 C569.98,868.2 569.83,869.3 569.28,871.65 C568.74,874 567.68,878.3 567.04,880.57 C566.4,882.83 566.06,883.64 565.43,885.25 C564.81,886.85 563.91,888.91 563.3,890.21 C562.7,891.51 562.56,891.89 561.81,893.04 C561.06,894.19 559.57,896.14 558.82,897.09 C558.07,898.05 558.51,897.79 557.33,898.75 C556.14,899.71 552.97,901.99 551.72,902.86 C550.47,903.73 551.41,903.2 549.85,903.98 C548.29,904.77 545.49,906.31 542.38,907.57 C539.26,908.83 535.21,910.23 531.17,911.52 C527.12,912.81 522.45,914.1 518.09,915.32 C513.73,916.53 509.12,917.63 505.01,918.81 C500.9,919.98 498.06,921.26 493.42,922.36 C488.79,923.46 482.12,924.78 477.2,925.43 C472.28,926.07 467.99,926.11 463.9,926.25 C459.81,926.39 456.11,926.1 452.69,926.26 C449.26,926.42 446.09,926.87 443.35,927.21 C440.61,927.55 438.74,927.75 436.25,928.29 C433.75,928.82 431.1,929.53 428.4,930.42 C425.7,931.31 422.83,932.27 420.03,933.63 C417.22,934.99 414.3,936.6 411.58,938.58 C408.87,940.56 406.41,942.66 403.73,945.5 C401.06,948.35 397.01,953.85 395.51,955.67 C394.02,957.5 396.14,955.01 394.77,956.46 C393.4,957.92 389.28,962.57 387.29,964.38 C385.3,966.2 383.93,966.75 382.81,967.36 C381.69,967.98 381.19,967.91 380.56,968.08 C379.94,968.24 380.13,968.34 379.07,968.34 C378.01,968.34 375.33,968.18 374.21,968.08 C373.09,967.97 373.28,967.99 372.34,967.71 C371.41,967.44 370.18,967.08 368.61,966.43 C367.03,965.78 365.19,965.23 362.89,963.81 C360.58,962.39 357.5,959.98 354.78,957.9 C352.06,955.82 348.99,953.57 346.56,951.34 C344.13,949.11 342.32,946.76 340.21,944.51 C338.09,942.26 335.53,939.51 333.85,937.84 C332.17,936.17 331.24,935.42 330.12,934.48 C328.99,933.54 328.51,933.2 327.13,932.2 C325.74,931.2 323.15,929.44 321.78,928.46 C320.41,927.48 320.26,927.27 318.9,926.31 C317.55,925.35 315.01,923.61 313.67,922.7 C312.34,921.78 312.28,921.71 310.91,920.82 C309.54,919.93 306.8,918.21 305.45,917.37 C304.11,916.53 304.21,916.51 302.84,915.78 C301.47,915.06 298.6,913.67 297.23,913.01 C295.86,912.35 295.98,912.42 294.61,911.82 C293.24,911.22 290.38,909.98 289.01,909.41 C287.64,908.84 287.76,908.88 286.39,908.41 C285.02,907.95 282.16,907.03 280.79,906.59 C279.42,906.16 279.5,906.1 278.17,905.8 C276.84,905.49 274.35,905.04 272.79,904.78 C271.23,904.53 270.24,904.42 268.83,904.28 C267.42,904.14 265.86,904.03 264.34,903.94 C262.82,903.85 261.02,903.76 259.71,903.73 C258.4,903.71 257.65,903.75 256.5,903.79 C255.34,903.82 254.13,903.84 252.76,903.95 C251.39,904.06 249.46,904.32 248.28,904.47 C247.09,904.62 247.03,904.63 245.66,904.85 C244.29,905.06 241.36,905.54 240.05,905.77 C238.75,906.01 239.12,905.91 237.81,906.25 C236.5,906.58 233.64,907.38 232.21,907.78 C230.77,908.18 230.62,908.17 229.22,908.66 C227.82,909.15 225.17,910.18 223.8,910.71 C222.43,911.23 222.71,911.1 221,911.82 C219.28,912.53 214.89,914.4 213.52,914.99 C212.15,915.57 214.27,914.52 212.77,915.3 C211.28,916.09 206.36,918.72 204.55,919.71 C202.75,920.71 203.28,920.51 201.94,921.29 C200.6,922.07 198.32,923.42 196.52,924.38 C194.71,925.33 193.82,925.69 191.1,927.02 C188.38,928.35 183.61,930.58 180.19,932.34 C176.76,934.11 172.28,936.67 170.55,937.6 C168.81,938.54 171.29,937.26 169.8,937.96 C168.3,938.66 163.01,941.13 161.58,941.79 C160.14,942.46 162.54,941.3 161.2,941.96 C159.87,942.63 155.39,944.75 153.58,945.78 C151.77,946.81 151.28,947.45 150.37,948.14 C149.46,948.82 149.43,948.66 148.12,949.89 C146.82,951.12 143.51,954.51 142.52,955.51 C141.52,956.5 143.03,955.21 142.14,955.86 C141.26,956.52 138.08,958.81 137.21,959.44 C136.34,960.08 137.73,959.33 136.91,959.66 C136.1,960 133.87,961.11 132.32,961.47 C130.76,961.82 128.55,961.73 127.57,961.8 C126.59,961.86 127.57,961.87 126.45,961.87 C125.33,961.88 122.77,961.53 120.84,961.81 C118.91,962.1 116.48,962.83 114.86,963.58 C113.24,964.32 112.04,965.63 111.13,966.28 C110.22,966.94 110.03,966.93 109.41,967.51 C108.79,968.09 108.1,969 107.39,969.79 C106.68,970.58 105.63,971.6 105.15,972.22 C104.67,972.85 104.89,972.78 104.51,973.56 C104.14,974.35 103.24,976.08 102.91,976.92 C102.58,977.75 102.8,977.39 102.53,978.57 C102.26,979.75 101.55,982.89 101.3,983.99 C101.05,985.09 101.27,983.6 101.04,985.16 C100.81,986.72 100.1,991.98 99.92,993.34" fill="none" stroke="#00B050" stroke-width="2.2" stroke-linejoin="round"/>
<path d="M99.92,990.06 C100,983.59 100.28,959.7 100.44,951.22 C100.6,942.73 100.66,944.7 100.85,939.13 C101.04,933.56 101.39,923.43 101.6,917.79 C101.8,912.14 101.87,910.45 102.08,905.28 C102.3,900.11 102.64,891.09 102.91,886.77 C103.17,882.45 103.24,883.32 103.65,879.37 C104.07,875.43 104.99,866.51 105.41,863.11 C105.83,859.7 105.66,861.57 106.19,858.92 C106.72,856.28 108.15,849.29 108.59,847.25 C109.02,845.21 108.39,847.64 108.81,846.69 C109.23,845.73 110.21,843.49 111.13,841.52 C112.04,839.55 113.43,836.42 114.3,834.85 C115.18,833.27 115.27,833.55 116.36,832.07 C117.45,830.59 119.82,827.34 120.84,825.96 C121.86,824.59 121.12,825.22 122.49,823.82 C123.86,822.42 127.72,818.83 129.06,817.56 C130.41,816.28 129.13,817.14 130.56,816.19 C131.99,815.25 136.41,812.63 137.66,811.89 C138.91,811.14 136.79,812.22 138.03,811.74 C139.28,811.27 142.54,809.79 145.13,809.02 C147.72,808.26 150.87,807.74 153.58,807.15 C156.29,806.55 159.75,805.8 161.39,805.47 C163.03,805.14 161.05,805.52 163.45,805.17 C165.84,804.82 171.88,803.44 175.78,803.36 C179.67,803.28 182.85,804.33 186.8,804.71 C190.76,805.09 194.68,805.38 199.51,805.62 C204.33,805.85 212.12,806.06 215.76,806.13 C219.41,806.19 218.01,806.06 221.37,806.02 C224.73,805.97 231.42,806.16 235.94,805.87 C240.46,805.59 244.89,804.76 248.5,804.31 C252.11,803.86 254.6,803.78 257.62,803.15 C260.63,802.53 263.6,801.51 266.59,800.58 C269.58,799.65 272.52,798.83 275.56,797.58 C278.59,796.34 281.73,794.66 284.79,793.11 C287.84,791.55 290.86,790.22 293.87,788.25 C296.87,786.28 299.78,783.76 302.84,781.31 C305.89,778.86 309.13,776.06 312.18,773.56 C315.23,771.06 318.16,768.6 321.15,766.31 C324.14,764.02 326.88,762.33 330.12,759.81 C333.35,757.28 338.15,753.17 340.58,751.16 C343.01,749.16 343.38,748.82 344.69,747.77 C346,746.71 346.62,746.16 348.43,744.85 C350.23,743.53 354.03,740.85 355.53,739.87 C357.02,738.88 355.59,739.76 357.4,738.94 C359.2,738.12 363.25,735.79 366.36,734.94 C369.48,734.09 374.24,734.01 376.08,733.83 C377.92,733.65 375.96,733.79 377.39,733.86 C378.82,733.93 383.34,734.16 384.68,734.24 C386.01,734.32 383.93,734.11 385.42,734.35 C386.92,734.58 390.78,735.19 393.64,735.66 C396.51,736.14 401.09,736.93 402.61,737.19 C404.14,737.45 401.24,737.06 402.8,737.22 C404.36,737.38 408.93,737.87 411.96,738.17 C414.98,738.47 417.93,738.92 420.92,739.04 C423.91,739.16 427.71,738.95 429.89,738.91 C432.07,738.87 431.76,738.96 434,738.81 C436.25,738.67 440.98,738.24 443.35,738.04 C445.71,737.84 445.9,737.82 448.2,737.6 C450.51,737.39 453.31,737.11 457.17,736.74 C461.03,736.36 468.32,735.65 471.37,735.35 C474.43,735.05 473.3,735.15 475.48,734.95 C477.66,734.74 480.78,734.5 484.45,734.14 C488.13,733.78 494.51,733.09 497.53,732.78 C500.56,732.46 500.25,732.54 502.62,732.25 C504.98,731.96 509.47,731.36 511.73,731.06 C514,730.76 513.23,731.02 516.22,730.45 C519.21,729.87 525.93,728.47 529.67,727.61 C533.41,726.74 536.21,725.91 538.64,725.27 C541.07,724.63 542.69,724.28 544.25,723.78 C545.8,723.28 546.11,723.03 547.98,722.26 C549.85,721.49 553.96,719.8 555.46,719.18 C556.95,718.57 555.77,719.25 556.95,718.55 C558.13,717.85 561.37,715.75 562.56,714.99 C563.74,714.24 563.37,714.61 564.05,714.02 C564.74,713.44 565.73,712.41 566.67,711.48 C567.6,710.55 568.6,709.68 569.66,708.45 C570.72,707.22 572.15,705.49 573.02,704.09 C573.89,702.69 574.58,700.73 574.89,700.06 L574.33,842.6 C574.2,842.6 573.77,842.38 573.58,842.6 C573.39,842.82 573.43,842.6 573.21,843.91 C572.99,845.21 572.52,848.74 572.27,850.43 C572.02,852.12 571.9,852.82 571.71,854.03 C571.53,855.24 571.39,856.29 571.15,857.69 C570.92,859.08 570.6,860.88 570.29,862.4 C569.98,863.93 569.83,864.71 569.28,866.84 C568.74,868.98 567.68,872.98 567.04,875.2 C566.4,877.43 566.06,878.53 565.43,880.18 C564.81,881.84 563.91,883.8 563.3,885.15 C562.7,886.49 562.56,887.05 561.81,888.25 C561.06,889.44 559.57,891.34 558.82,892.32 C558.07,893.3 558.51,893.16 557.33,894.14 C556.14,895.12 552.97,897.31 551.72,898.19 C550.47,899.06 551.41,898.59 549.85,899.39 C548.29,900.2 545.49,901.74 542.38,903.02 C539.26,904.31 535.21,905.77 531.17,907.09 C527.12,908.4 522.45,909.69 518.09,910.91 C513.73,912.14 509.12,913.25 505.01,914.45 C500.9,915.65 498.06,916.94 493.42,918.1 C488.79,919.25 482.12,920.66 477.2,921.39 C472.28,922.11 467.99,922.23 463.9,922.45 C459.81,922.68 456.11,922.51 452.69,922.74 C449.26,922.98 446.09,923.5 443.35,923.86 C440.61,924.22 438.74,924.35 436.25,924.91 C433.75,925.48 431.1,926.29 428.4,927.26 C425.7,928.22 422.83,929.28 420.03,930.72 C417.22,932.17 414.3,933.9 411.58,935.93 C408.87,937.96 406.41,939.99 403.73,942.92 C401.06,945.85 397.01,951.61 395.51,953.51 C394.02,955.41 396.14,952.85 394.77,954.3 C393.4,955.75 389.28,960.39 387.29,962.21 C385.3,964.02 383.93,964.62 382.81,965.2 C381.69,965.79 381.19,965.59 380.56,965.71 C379.94,965.84 380.13,966.01 379.07,965.94 C378.01,965.86 375.33,965.45 374.21,965.27 C373.09,965.1 373.28,965.19 372.34,964.88 C371.41,964.56 370.18,964.06 368.61,963.37 C367.03,962.69 365.19,962.21 362.89,960.76 C360.58,959.31 357.5,956.81 354.78,954.69 C352.06,952.56 348.99,950.27 346.56,948.02 C344.13,945.77 342.32,943.46 340.21,941.17 C338.09,938.89 335.53,936.02 333.85,934.32 C332.17,932.63 331.24,931.96 330.12,931 C328.99,930.04 328.51,929.62 327.13,928.56 C325.74,927.49 323.15,925.63 321.78,924.61 C320.41,923.58 320.26,923.38 318.9,922.41 C317.55,921.44 315.01,919.71 313.67,918.79 C312.34,917.87 312.28,917.78 310.91,916.89 C309.54,916.01 306.8,914.31 305.45,913.47 C304.11,912.63 304.21,912.58 302.84,911.87 C301.47,911.16 298.6,909.86 297.23,909.22 C295.86,908.58 295.98,908.62 294.61,908.03 C293.24,907.44 290.38,906.25 289.01,905.69 C287.64,905.12 287.76,905.13 286.39,904.66 C285.02,904.18 282.16,903.29 280.79,902.85 C279.42,902.41 279.5,902.31 278.17,902.03 C276.84,901.74 274.35,901.38 272.79,901.14 C271.23,900.9 270.24,900.74 268.83,900.61 C267.42,900.47 265.86,900.4 264.34,900.31 C262.82,900.22 261.02,900.1 259.71,900.07 C258.4,900.04 257.65,900.12 256.5,900.16 C255.34,900.2 254.13,900.19 252.76,900.31 C251.39,900.43 249.46,900.74 248.28,900.9 C247.09,901.06 247.03,901.06 245.66,901.28 C244.29,901.51 241.36,902.02 240.05,902.25 C238.75,902.48 239.12,902.36 237.81,902.69 C236.5,903.02 233.64,903.83 232.21,904.23 C230.77,904.63 230.62,904.59 229.22,905.08 C227.82,905.58 225.17,906.66 223.8,907.21 C222.43,907.75 222.71,907.6 221,908.33 C219.28,909.06 214.89,910.99 213.52,911.59 C212.15,912.19 214.27,911.07 212.77,911.92 C211.28,912.77 206.36,915.59 204.55,916.67 C202.75,917.75 203.28,917.53 201.94,918.4 C200.6,919.27 198.32,920.81 196.52,921.89 C194.71,922.96 193.82,923.35 191.1,924.82 C188.38,926.29 183.61,928.77 180.19,930.73 C176.76,932.69 172.28,935.53 170.55,936.58 C168.81,937.62 171.29,936.2 169.8,937.01 C168.3,937.81 163.01,940.65 161.58,941.41 C160.14,942.18 162.54,940.89 161.2,941.61 C159.87,942.34 155.39,944.68 153.58,945.77 C151.77,946.86 151.28,947.47 150.37,948.15 C149.46,948.83 149.43,948.69 148.12,949.86 C146.82,951.03 143.51,954.22 142.52,955.16 C141.52,956.1 143.03,954.87 142.14,955.5 C141.26,956.14 138.08,958.37 137.21,958.99 C136.34,959.6 137.73,958.87 136.91,959.2 C136.1,959.53 133.87,960.61 132.32,960.96 C130.76,961.31 128.55,961.24 127.57,961.32 C126.59,961.39 127.57,961.39 126.45,961.4 C125.33,961.41 122.77,961.11 120.84,961.4 C118.91,961.69 116.48,962.42 114.86,963.16 C113.24,963.9 112.04,965.17 111.13,965.81 C110.22,966.46 110.03,966.44 109.41,967.03 C108.79,967.62 108.1,968.54 107.39,969.37 C106.68,970.19 105.63,971.3 105.15,971.96 C104.67,972.62 104.89,972.52 104.51,973.33 C104.14,974.14 103.24,975.94 102.91,976.8 C102.58,977.66 102.8,977.27 102.53,978.47 C102.26,979.67 101.55,982.87 101.3,983.99 C101.05,985.1 101.27,983.6 101.04,985.16 C100.81,986.72 100.1,991.98 99.92,993.34" fill="none" stroke="#006600" stroke-width="2.2" stroke-linejoin="round"/>
<path d="M99.92,992.73 C100,985.74 100.28,959.71 100.44,950.77 C100.6,941.83 100.66,944.55 100.85,939.09 C101.04,933.62 101.39,923.52 101.6,917.97 C101.8,912.43 101.87,911.19 102.08,905.83 C102.3,900.46 102.64,890.34 102.91,885.77 C103.17,881.21 103.24,882.5 103.65,878.43 C104.07,874.37 104.99,864.9 105.41,861.39 C105.83,857.87 105.66,860.04 106.19,857.34 C106.72,854.64 108.15,847.3 108.59,845.19 C109.02,843.08 108.39,845.63 108.81,844.66 C109.23,843.7 110.21,841.45 111.13,839.38 C112.04,837.3 113.43,833.88 114.3,832.21 C115.18,830.54 115.27,830.87 116.36,829.35 C117.45,827.84 119.82,824.53 120.84,823.12 C121.86,821.7 121.12,822.29 122.49,820.85 C123.86,819.4 127.72,815.74 129.06,814.43 C130.41,813.12 129.13,813.95 130.56,812.98 C131.99,812.01 136.41,809.35 137.66,808.6 C138.91,807.85 136.79,808.91 138.03,808.46 C139.28,808.02 142.54,806.59 145.13,805.92 C147.72,805.25 150.87,804.92 153.58,804.45 C156.29,803.98 159.75,803.36 161.39,803.11 C163.03,802.85 161.05,803.14 163.45,802.92 C165.84,802.7 171.88,801.63 175.78,801.78 C179.67,801.93 182.85,803.21 186.8,803.82 C190.76,804.43 194.68,804.93 199.51,805.42 C204.33,805.91 212.12,806.49 215.76,806.74 C219.41,806.98 218.01,806.79 221.37,806.88 C224.73,806.97 231.42,807.44 235.94,807.29 C240.46,807.14 244.89,806.36 248.5,805.98 C252.11,805.6 254.6,805.63 257.62,805.02 C260.63,804.42 263.6,803.26 266.59,802.37 C269.58,801.47 272.52,800.86 275.56,799.64 C278.59,798.43 281.73,796.61 284.79,795.09 C287.84,793.57 290.86,792.48 293.87,790.54 C296.87,788.6 299.78,785.87 302.84,783.45 C305.89,781.02 309.13,778.38 312.18,775.99 C315.23,773.59 318.16,771.25 321.15,769.06 C324.14,766.87 326.88,765.26 330.12,762.85 C333.35,760.43 338.15,756.48 340.58,754.56 C343.01,752.64 343.38,752.31 344.69,751.31 C346,750.3 346.62,749.87 348.43,748.55 C350.23,747.23 354.03,744.4 355.53,743.39 C357.02,742.38 355.59,743.34 357.4,742.49 C359.2,741.63 363.25,739.17 366.36,738.23 C369.48,737.29 374.24,737.08 376.08,736.85 C377.92,736.62 375.96,736.84 377.39,736.86 C378.82,736.88 383.34,736.92 384.68,736.96 C386.01,736.99 383.93,736.86 385.42,737.05 C386.92,737.23 390.78,737.71 393.64,738.07 C396.51,738.43 401.09,739.01 402.61,739.2 C404.14,739.39 401.24,739.12 402.8,739.22 C404.36,739.33 408.93,739.64 411.96,739.84 C414.98,740.04 417.93,740.4 420.92,740.44 C423.91,740.48 427.71,740.18 429.89,740.1 C432.07,740.01 431.76,740.12 434,739.93 C436.25,739.74 440.98,739.21 443.35,738.96 C445.71,738.71 445.9,738.7 448.2,738.45 C450.51,738.19 453.31,737.87 457.17,737.43 C461.03,737 468.32,736.17 471.37,735.82 C474.43,735.47 473.3,735.58 475.48,735.35 C477.66,735.12 480.78,734.81 484.45,734.43 C488.13,734.05 494.51,733.4 497.53,733.09 C500.56,732.78 500.25,732.85 502.62,732.57 C504.98,732.28 509.47,731.68 511.73,731.38 C514,731.08 513.23,731.35 516.22,730.78 C519.21,730.21 525.93,728.81 529.67,727.95 C533.41,727.09 536.21,726.25 538.64,725.62 C541.07,724.98 542.69,724.64 544.25,724.14 C545.8,723.64 546.11,723.38 547.98,722.62 C549.85,721.85 553.96,720.17 555.46,719.55 C556.95,718.93 555.77,719.62 556.95,718.93 C558.13,718.23 561.37,716.12 562.56,715.37 C563.74,714.62 563.37,715 564.05,714.41 C564.74,713.83 565.73,712.79 566.67,711.87 C567.6,710.95 568.6,710.1 569.66,708.89 C570.72,707.67 572.15,705.97 573.02,704.58 C573.89,703.2 574.58,701.25 574.89,700.58 L574.33,842.6 C574.2,842.6 573.77,842.57 573.58,842.6 C573.39,842.63 573.43,841.95 573.21,842.75 C572.99,843.55 572.52,846.16 572.27,847.4 C572.02,848.63 571.9,849.22 571.71,850.15 C571.53,851.08 571.39,851.79 571.15,852.97 C570.92,854.14 570.6,855.89 570.29,857.18 C569.98,858.47 569.83,858.84 569.28,860.7 C568.74,862.57 567.68,866.18 567.04,868.35 C566.4,870.52 566.06,871.99 565.43,873.72 C564.81,875.44 563.91,877.28 563.3,878.68 C562.7,880.08 562.56,880.86 561.81,882.12 C561.06,883.38 559.57,885.2 558.82,886.22 C558.07,887.24 558.51,887.25 557.33,888.25 C556.14,889.25 552.97,891.34 551.72,892.22 C550.47,893.1 551.41,892.69 549.85,893.53 C548.29,894.36 545.49,895.9 542.38,897.21 C539.26,898.53 535.21,900.07 531.17,901.42 C527.12,902.76 522.45,904.04 518.09,905.29 C513.73,906.53 509.12,907.66 505.01,908.89 C500.9,910.11 498.06,911.43 493.42,912.65 C488.79,913.88 482.12,915.4 477.2,916.23 C472.28,917.05 467.99,917.26 463.9,917.59 C459.81,917.93 456.11,917.92 452.69,918.25 C449.26,918.58 446.09,919.18 443.35,919.57 C440.61,919.96 438.74,920 436.25,920.6 C433.75,921.21 431.1,922.12 428.4,923.21 C425.7,924.3 422.83,925.53 420.03,927.13 C417.22,928.73 414.3,930.66 411.58,932.81 C408.87,934.96 406.41,936.95 403.73,940.02 C401.06,943.08 397.01,949.21 395.51,951.21 C394.02,953.21 396.14,950.54 394.77,952.01 C393.4,953.48 389.28,958.17 387.29,960.02 C385.3,961.86 383.93,962.52 382.81,963.1 C381.69,963.67 381.19,963.35 380.56,963.45 C379.94,963.54 380.13,963.79 379.07,963.67 C378.01,963.55 375.33,962.95 374.21,962.72 C373.09,962.5 373.28,962.68 372.34,962.34 C371.41,962 370.18,961.39 368.61,960.68 C367.03,959.96 365.19,959.54 362.89,958.07 C360.58,956.6 357.5,954.01 354.78,951.85 C352.06,949.68 348.99,947.36 346.56,945.09 C344.13,942.82 342.32,940.54 340.21,938.23 C338.09,935.92 335.53,932.94 333.85,931.22 C332.17,929.51 331.24,928.92 330.12,927.94 C328.99,926.96 328.51,926.47 327.13,925.35 C325.74,924.22 323.15,922.27 321.78,921.21 C320.41,920.15 320.26,919.95 318.9,918.97 C317.55,917.99 315.01,916.27 313.67,915.34 C312.34,914.42 312.28,914.31 310.91,913.43 C309.54,912.54 306.8,910.87 305.45,910.03 C304.11,909.2 304.21,909.11 302.84,908.41 C301.47,907.72 298.6,906.49 297.23,905.87 C295.86,905.25 295.98,905.27 294.61,904.69 C293.24,904.11 290.38,902.96 289.01,902.4 C287.64,901.84 287.76,901.82 286.39,901.34 C285.02,900.87 282.16,899.98 280.79,899.54 C279.42,899.1 279.5,898.97 278.17,898.7 C276.84,898.44 274.35,898.15 272.79,897.92 C271.23,897.7 270.24,897.5 268.83,897.37 C267.42,897.23 265.86,897.19 264.34,897.1 C262.82,897.01 261.02,896.86 259.71,896.84 C258.4,896.81 257.65,896.91 256.5,896.95 C255.34,897 254.13,896.97 252.76,897.1 C251.39,897.23 249.46,897.58 248.28,897.75 C247.09,897.93 247.03,897.91 245.66,898.14 C244.29,898.37 241.36,898.91 240.05,899.14 C238.75,899.37 239.12,899.22 237.81,899.55 C236.5,899.87 233.64,900.7 232.21,901.1 C230.77,901.49 230.62,901.42 229.22,901.93 C227.82,902.43 225.17,903.56 223.8,904.12 C222.43,904.67 222.71,904.51 221,905.26 C219.28,906 214.89,907.99 213.52,908.6 C212.15,909.21 214.27,908.04 212.77,908.93 C211.28,909.83 206.36,912.83 204.55,913.98 C202.75,915.13 203.28,914.89 201.94,915.84 C200.6,916.79 198.32,918.51 196.52,919.69 C194.71,920.86 193.82,921.28 191.1,922.88 C188.38,924.48 183.61,927.17 180.19,929.3 C176.76,931.43 172.28,934.52 170.55,935.67 C168.81,936.81 171.29,935.26 169.8,936.16 C168.3,937.06 163.01,940.21 161.58,941.06 C160.14,941.91 162.54,940.5 161.2,941.28 C159.87,942.06 155.39,944.6 153.58,945.75 C151.77,946.9 151.28,947.49 150.37,948.18 C149.46,948.86 149.43,948.74 148.12,949.87 C146.82,951 143.51,954.05 142.52,954.95 C141.52,955.85 143.03,954.66 142.14,955.29 C141.26,955.92 138.08,958.11 137.21,958.72 C136.34,959.32 137.73,958.6 136.91,958.92 C136.1,959.25 133.87,960.3 132.32,960.66 C130.76,961.01 128.55,960.95 127.57,961.03 C126.59,961.1 127.57,961.1 126.45,961.12 C125.33,961.14 122.77,960.85 120.84,961.15 C118.91,961.45 116.48,962.18 114.86,962.91 C113.24,963.64 112.04,964.89 111.13,965.53 C110.22,966.17 110.03,966.16 109.41,966.75 C108.79,967.33 108.1,968.23 107.39,969.05 C106.68,969.86 105.63,970.98 105.15,971.64 C104.67,972.3 104.89,972.19 104.51,972.99 C104.14,973.8 103.24,975.6 102.91,976.45 C102.58,977.3 102.8,976.91 102.53,978.09 C102.26,979.27 101.55,982.43 101.3,983.53 C101.05,984.63 101.27,983.15 101.04,984.69 C100.81,986.22 100.1,991.39 99.92,992.73" fill="none" stroke="#FFC000" stroke-width="2.2" stroke-linejoin="round"/>
<path d="M99.92,993.34 C100,986.23 100.28,959.71 100.44,950.66 C100.6,941.62 100.66,944.52 100.85,939.08 C101.04,933.64 101.39,923.54 101.6,918.02 C101.8,912.5 101.87,911.37 102.08,905.95 C102.3,900.54 102.64,890.17 102.91,885.54 C103.17,880.92 103.24,882.31 103.65,878.22 C104.07,874.12 104.99,864.53 105.41,860.99 C105.83,857.45 105.66,859.68 106.19,856.97 C106.72,854.26 108.15,846.84 108.59,844.71 C109.02,842.58 108.39,845.17 108.81,844.2 C109.23,843.23 110.21,840.98 111.13,838.88 C112.04,836.78 113.43,833.29 114.3,831.6 C115.18,829.91 115.27,830.25 116.36,828.73 C117.45,827.2 119.82,823.89 120.84,822.46 C121.86,821.03 121.12,821.62 122.49,820.16 C123.86,818.7 127.72,815.03 129.06,813.71 C130.41,812.39 129.13,813.22 130.56,812.24 C131.99,811.26 136.41,808.6 137.66,807.84 C138.91,807.08 136.79,808.15 138.03,807.71 C139.28,807.27 142.54,805.85 145.13,805.2 C147.72,804.55 150.87,804.27 153.58,803.83 C156.29,803.39 159.75,802.8 161.39,802.56 C163.03,802.32 161.05,802.59 163.45,802.4 C165.84,802.21 171.88,801.21 175.78,801.42 C179.67,801.62 182.85,802.96 186.8,803.62 C190.76,804.28 194.68,804.83 199.51,805.38 C204.33,805.92 212.12,806.59 215.76,806.87 C219.41,807.15 218.01,806.95 221.37,807.07 C224.73,807.18 231.42,807.7 235.94,807.58 C240.46,807.45 244.89,806.67 248.5,806.3 C252.11,805.93 254.6,805.98 257.62,805.38 C260.63,804.77 263.6,803.59 266.59,802.69 C269.58,801.8 272.52,801.22 275.56,800.01 C278.59,798.8 281.73,796.95 284.79,795.44 C287.84,793.93 290.86,792.88 293.87,790.94 C296.87,789.01 299.78,786.25 302.84,783.83 C305.89,781.41 309.13,778.8 312.18,776.42 C315.23,774.05 318.16,771.73 321.15,769.56 C324.14,767.39 326.88,765.8 330.12,763.4 C333.35,761 338.15,757.09 340.58,755.19 C343.01,753.28 343.38,752.95 344.69,751.96 C346,750.97 346.62,750.55 348.43,749.23 C350.23,747.91 354.03,745.05 355.53,744.04 C357.02,743.03 355.59,744.01 357.4,743.14 C359.2,742.28 363.25,739.8 366.36,738.85 C369.48,737.9 374.24,737.67 376.08,737.44 C377.92,737.21 375.96,737.44 377.39,737.45 C378.82,737.47 383.34,737.5 384.68,737.53 C386.01,737.56 383.93,737.44 385.42,737.62 C386.92,737.8 390.78,738.27 393.64,738.62 C396.51,738.96 401.09,739.52 402.61,739.71 C404.14,739.89 401.24,739.63 402.8,739.73 C404.36,739.83 408.93,740.12 411.96,740.31 C414.98,740.5 417.93,740.84 420.92,740.87 C423.91,740.91 427.71,740.6 429.89,740.51 C432.07,740.42 431.76,740.54 434,740.34 C436.25,740.15 440.98,739.61 443.35,739.36 C445.71,739.11 445.9,739.1 448.2,738.85 C450.51,738.59 453.31,738.27 457.17,737.84 C461.03,737.4 468.32,736.58 471.37,736.23 C474.43,735.89 473.3,736 475.48,735.77 C477.66,735.54 480.78,735.24 484.45,734.87 C488.13,734.5 494.51,733.86 497.53,733.55 C500.56,733.25 500.25,733.32 502.62,733.04 C504.98,732.76 509.47,732.15 511.73,731.86 C514,731.57 513.23,731.85 516.22,731.28 C519.21,730.71 525.93,729.32 529.67,728.46 C533.41,727.61 536.21,726.77 538.64,726.14 C541.07,725.5 542.69,725.18 544.25,724.68 C545.8,724.18 546.11,723.92 547.98,723.15 C549.85,722.39 553.96,720.71 555.46,720.1 C556.95,719.49 555.77,720.18 556.95,719.49 C558.13,718.8 561.37,716.69 562.56,715.94 C563.74,715.2 563.37,715.58 564.05,715 C564.74,714.42 565.73,713.36 566.67,712.45 C567.6,711.54 568.6,710.73 569.66,709.54 C570.72,708.36 572.15,706.68 573.02,705.32 C573.89,703.96 574.58,702.02 574.89,701.36 L574.33,842.6 C574.2,842.6 573.77,842.6 573.58,842.6 C573.39,842.6 573.43,841.87 573.21,842.6 C572.99,843.33 572.52,845.83 572.27,847 C572.02,848.17 571.9,848.75 571.71,849.64 C571.53,850.53 571.39,851.21 571.15,852.35 C570.92,853.49 570.6,855.24 570.29,856.5 C569.98,857.76 569.83,858.08 569.28,859.9 C568.74,861.73 567.68,865.3 567.04,867.46 C566.4,869.62 566.06,871.14 565.43,872.87 C564.81,874.6 563.91,876.43 563.3,877.84 C562.7,879.24 562.56,880.05 561.81,881.32 C561.06,882.59 559.57,884.4 558.82,885.43 C558.07,886.45 558.51,886.48 557.33,887.48 C556.14,888.48 552.97,890.56 551.72,891.44 C550.47,892.32 551.41,891.92 549.85,892.76 C548.29,893.6 545.49,895.14 542.38,896.46 C539.26,897.78 535.21,899.33 531.17,900.68 C527.12,902.03 522.45,903.31 518.09,904.55 C513.73,905.8 509.12,906.93 505.01,908.16 C500.9,909.39 498.06,910.71 493.42,911.94 C488.79,913.18 482.12,914.72 477.2,915.55 C472.28,916.39 467.99,916.61 463.9,916.96 C459.81,917.31 456.11,917.32 452.69,917.66 C449.26,918.01 446.09,918.62 443.35,919.01 C440.61,919.41 438.74,919.43 436.25,920.04 C433.75,920.65 431.1,921.58 428.4,922.68 C425.7,923.78 422.83,925.03 420.03,926.64 C417.22,928.25 414.3,930.2 411.58,932.36 C408.87,934.52 406.41,936.5 403.73,939.58 C401.06,942.66 397.01,948.83 395.51,950.84 C394.02,952.85 396.14,950.17 394.77,951.64 C393.4,953.11 389.28,957.79 387.29,959.64 C385.3,961.49 383.93,962.15 382.81,962.72 C381.69,963.29 381.19,962.95 380.56,963.04 C379.94,963.12 380.13,963.38 379.07,963.25 C378.01,963.11 375.33,962.47 374.21,962.23 C373.09,962 373.28,962.19 372.34,961.84 C371.41,961.49 370.18,960.85 368.61,960.14 C367.03,959.42 365.19,959 362.89,957.53 C360.58,956.05 357.5,953.45 354.78,951.28 C352.06,949.11 348.99,946.78 346.56,944.5 C344.13,942.23 342.32,939.96 340.21,937.64 C338.09,935.32 335.53,932.32 333.85,930.6 C332.17,928.88 331.24,928.31 330.12,927.32 C328.99,926.34 328.51,925.84 327.13,924.7 C325.74,923.57 323.15,921.6 321.78,920.53 C320.41,919.46 320.26,919.26 318.9,918.28 C317.55,917.3 315.01,915.58 313.67,914.65 C312.34,913.73 312.28,913.62 310.91,912.74 C309.54,911.85 306.8,910.18 305.45,909.35 C304.11,908.51 304.21,908.41 302.84,907.72 C301.47,907.03 298.6,905.82 297.23,905.2 C295.86,904.58 295.98,904.6 294.61,904.02 C293.24,903.45 290.38,902.3 289.01,901.74 C287.64,901.19 287.76,901.16 286.39,900.68 C285.02,900.2 282.16,899.32 280.79,898.88 C279.42,898.44 279.5,898.31 278.17,898.04 C276.84,897.77 274.35,897.5 272.79,897.28 C271.23,897.06 270.24,896.86 268.83,896.72 C267.42,896.58 265.86,896.55 264.34,896.46 C262.82,896.37 261.02,896.22 259.71,896.19 C258.4,896.17 257.65,896.27 256.5,896.31 C255.34,896.36 254.13,896.32 252.76,896.46 C251.39,896.59 249.46,896.95 248.28,897.12 C247.09,897.3 247.03,897.28 245.66,897.51 C244.29,897.74 241.36,898.28 240.05,898.52 C238.75,898.75 239.12,898.59 237.81,898.92 C236.5,899.25 233.64,900.07 232.21,900.47 C230.77,900.87 230.62,900.79 229.22,901.3 C227.82,901.8 225.17,902.94 223.8,903.5 C222.43,904.06 222.71,903.89 221,904.64 C219.28,905.39 214.89,907.38 213.52,908 C212.15,908.62 214.27,907.43 212.77,908.34 C211.28,909.24 206.36,912.27 204.55,913.44 C202.75,914.61 203.28,914.36 201.94,915.33 C200.6,916.3 198.32,918.05 196.52,919.25 C194.71,920.44 193.82,920.86 191.1,922.49 C188.38,924.12 183.61,926.85 180.19,929.02 C176.76,931.18 172.28,934.31 170.55,935.47 C168.81,936.63 171.29,935.06 169.8,935.97 C168.3,936.88 163.01,940.07 161.58,940.93 C160.14,941.8 162.54,940.36 161.2,941.16 C159.87,941.96 155.39,944.56 153.58,945.74 C151.77,946.91 151.28,947.52 150.37,948.22 C149.46,948.93 149.43,948.8 148.12,949.96 C146.82,951.12 143.51,954.23 142.52,955.16 C141.52,956.08 143.03,954.87 142.14,955.5 C141.26,956.14 138.08,958.37 137.21,958.99 C136.34,959.6 137.73,958.87 136.91,959.2 C136.1,959.53 133.87,960.61 132.32,960.96 C130.76,961.31 128.55,961.24 127.57,961.32 C126.59,961.39 127.57,961.39 126.45,961.4 C125.33,961.41 122.77,961.11 120.84,961.4 C118.91,961.69 116.48,962.42 114.86,963.16 C113.24,963.9 112.04,965.17 111.13,965.81 C110.22,966.46 110.03,966.44 109.41,967.03 C108.79,967.62 108.1,968.54 107.39,969.37 C106.68,970.19 105.63,971.3 105.15,971.96 C104.67,972.62 104.89,972.52 104.51,973.33 C104.14,974.14 103.24,975.94 102.91,976.8 C102.58,977.66 102.8,977.27 102.53,978.47 C102.26,979.67 101.55,982.87 101.3,983.99 C101.05,985.1 101.27,983.6 101.04,985.16 C100.81,986.72 100.1,991.98 99.92,993.34" fill="none" stroke="#FF9300" stroke-width="2.5" stroke-linejoin="round"/>
<rect x="90.2" y="666.6" width="504" height="352" fill="none" stroke="#000" stroke-width="1.7"/>
<line x1="90.2" y1="1018.6" x2="98.2" y2="1018.6" stroke="#000" stroke-width="1.6"/>
<line x1="90.2" y1="974.6" x2="98.2" y2="974.6" stroke="#000" stroke-width="1.6"/>
<line x1="90.2" y1="930.6" x2="98.2" y2="930.6" stroke="#000" stroke-width="1.6"/>
<line x1="90.2" y1="886.6" x2="98.2" y2="886.6" stroke="#000" stroke-width="1.6"/>
<line x1="90.2" y1="842.6" x2="98.2" y2="842.6" stroke="#000" stroke-width="1.6"/>
<line x1="90.2" y1="798.6" x2="98.2" y2="798.6" stroke="#000" stroke-width="1.6"/>
<line x1="90.2" y1="754.6" x2="98.2" y2="754.6" stroke="#000" stroke-width="1.6"/>
<line x1="90.2" y1="710.6" x2="98.2" y2="710.6" stroke="#000" stroke-width="1.6"/>
<line x1="90.2" y1="666.6" x2="98.2" y2="666.6" stroke="#000" stroke-width="1.6"/>
<line x1="202.31" y1="1018.6" x2="202.31" y2="1010.6" stroke="#000" stroke-width="1.6"/>
<line x1="314.42" y1="1018.6" x2="314.42" y2="1010.6" stroke="#000" stroke-width="1.6"/>
<line x1="426.53" y1="1018.6" x2="426.53" y2="1010.6" stroke="#000" stroke-width="1.6"/>
<line x1="538.64" y1="1018.6" x2="538.64" y2="1010.6" stroke="#000" stroke-width="1.6"/>
<text x="66.3" y="1027.5" style="font-family:'Liberation Sans',Arial,sans-serif;font-size:27.5px;font-weight:normal" text-anchor="end">-20</text>
<text x="66.3" y="983.5" style="font-family:'Liberation Sans',Arial,sans-serif;font-size:27.5px;font-weight:normal" text-anchor="end">-15</text>
<text x="66.3" y="939.5" style="font-family:'Liberation Sans',Arial,sans-serif;font-size:27.5px;font-weight:normal" text-anchor="end">-10</text>
<text x="66.3" y="895.5" style="font-family:'Liberation Sans',Arial,sans-serif;font-size:27.5px;font-weight:normal" text-anchor="end">-5</text>
<text x="66.3" y="851.5" style="font-family:'Liberation Sans',Arial,sans-serif;font-size:27.5px;font-weight:normal" text-anchor="end">0</text>
<text x="66.3" y="807.5" style="font-family:'Liberation Sans',Arial,sans-serif;font-size:27.5px;font-weight:normal" text-anchor="end">5</text>
<text x="66.3" y="763.5" style="font-family:'Liberation Sans',Arial,sans-serif;font-size:27.5px;font-weight:normal" text-anchor="end">10</text>
<text x="66.3" y="719.5" style="font-family:'Liberation Sans',Arial,sans-serif;font-size:27.5px;font-weight:normal" text-anchor="end">15</text>
<text x="66.3" y="675.5" style="font-family:'Liberation Sans',Arial,sans-serif;font-size:27.5px;font-weight:normal" text-anchor="end">20</text>
<text x="90.2" y="1059.6" style="font-family:'Liberation Sans',Arial,sans-serif;font-size:27.5px;font-weight:normal" text-anchor="middle">0</text>
<text x="202.31" y="1059.6" style="font-family:'Liberation Sans',Arial,sans-serif;font-size:27.5px;font-weight:normal" text-anchor="middle">0.3</text>
<text x="314.42" y="1059.6" style="font-family:'Liberation Sans',Arial,sans-serif;font-size:27.5px;font-weight:normal" text-anchor="middle">0.6</text>
<text x="426.53" y="1059.6" style="font-family:'Liberation Sans',Arial,sans-serif;font-size:27.5px;font-weight:normal" text-anchor="middle">0.9</text>
<text x="538.64" y="1059.6" style="font-family:'Liberation Sans',Arial,sans-serif;font-size:27.5px;font-weight:normal" text-anchor="middle">1.2</text>
<text x="1.5" y="675.7" style="font-family:'Liberation Sans',Arial,sans-serif;font-size:27.5px;font-weight:normal" text-anchor="start">c)</text>
<text transform="translate(22.3,842.6) rotate(-90)" style="font-family:'Liberation Sans',Arial,sans-serif;font-size:27.5px;font-weight:bold" text-anchor="middle">i [mA cm<tspan dy="-9" style="font-size:18px">&#8211;2</tspan><tspan dy="9">]</tspan></text>
<text x="342" y="1095.3" style="font-family:'Liberation Sans',Arial,sans-serif;font-size:27px;font-weight:bold" text-anchor="middle">E [V]</text>
<line x1="885.6" y1="666" x2="885.6" y2="1006.6" stroke="#BEBEBE" stroke-width="1.8"/>
<line x1="1001.2" y1="666" x2="1001.2" y2="1006.6" stroke="#BEBEBE" stroke-width="1.8"/>
<line x1="1116.8" y1="666" x2="1116.8" y2="1006.6" stroke="#BEBEBE" stroke-width="1.8"/>
<line x1="770" y1="892.9" x2="1231.6" y2="892.9" stroke="#BEBEBE" stroke-width="1.8"/>
<line x1="770" y1="779.4" x2="1231.6" y2="779.4" stroke="#BEBEBE" stroke-width="1.8"/>
<path d="M802,948.6 C801.55,945.52 800.45,936.85 799.3,930.1 C798.15,923.35 796.02,914.07 795.1,908.1 C794.18,902.13 793.8,897.98 793.8,894.3 C793.8,890.62 793.73,889.22 795.1,886 C796.47,882.78 798.78,878.88 802,875 C805.22,871.12 810.03,866.13 814.4,862.7 C818.77,859.27 823.62,856.58 828.2,854.4 C832.78,852.22 837.32,850.75 841.9,849.6 C846.48,848.45 851.12,847.73 855.7,847.5 C860.28,847.27 864.82,847.28 869.4,848.2 C873.98,849.12 879.07,850.82 883.2,853 C887.33,855.18 891.22,858.08 894.2,861.3 C897.18,864.52 898.8,867.72 901.1,872.3 C903.4,876.88 906.85,886.05 908,888.8" fill="none" stroke="#FF0000" stroke-width="1.9" stroke-linejoin="round"/>
<path d="M802.5,948 C802.05,945.02 800.95,936.75 799.8,930.1 C798.65,923.45 796.52,914.07 795.6,908.1 C794.68,902.13 794.3,897.98 794.3,894.3 C794.3,890.62 794.23,889.22 795.6,886 C796.97,882.78 799.28,878.88 802.5,875 C805.72,871.12 810.53,866.13 814.9,862.7 C819.27,859.27 824.12,856.58 828.7,854.4 C833.28,852.22 837.82,850.75 842.4,849.6 C846.98,848.45 851.62,847.73 856.2,847.5 C860.78,847.27 865.15,847.37 869.9,848.2 C874.65,849.03 880.32,850.48 884.7,852.5 C889.08,854.52 892.88,857.17 896.2,860.3 C899.52,863.43 902.07,866.55 904.6,871.3 C907.13,876.05 910.27,885.88 911.4,888.8" fill="none" stroke="#C00000" stroke-width="1.9" stroke-linejoin="round"/>
<path d="M805.5,951.4 C804.92,947.85 803.38,937.78 802,930.1 C800.62,922.42 798.12,911.27 797.2,905.3 C796.28,899.33 796.15,897.97 796.5,894.3 C796.85,890.63 796.32,887.88 799.3,883.3 C802.28,878.72 808.45,871.85 814.4,866.8 C820.35,861.75 828.12,856.45 835,853 C841.88,849.55 848.82,847.25 855.7,846.1 C862.58,844.95 870.57,845.4 876.3,846.1 C882.03,846.8 885.52,848 890.1,850.3 C894.68,852.6 899.68,856 903.8,859.9 C907.92,863.8 911.93,868.77 914.8,873.7 C917.67,878.63 919.97,886.87 921,889.5" fill="none" stroke="#00B0F0" stroke-width="1.9" stroke-linejoin="round"/>
<path d="M811,950 C810.42,946.68 808.65,937.55 807.5,930.1 C806.35,922.65 804.67,911.5 804.1,905.3 C803.53,899.1 803.3,895.77 804.1,892.9 C804.9,890.03 807.42,890.17 808.9,888.1 C810.38,886.03 809.78,884.05 813,880.5 C816.22,876.95 822.23,871.15 828.2,866.8 C834.17,862.45 841.93,857.62 848.8,854.4 C855.67,851.18 862.52,848.65 869.4,847.5 C876.28,846.35 884.37,846.82 890.1,847.5 C895.83,848.18 899.22,849.3 903.8,851.6 C908.38,853.9 913.93,857.4 917.6,861.3 C921.27,865.2 923.52,870.42 925.8,875 C928.08,879.58 930.38,886.5 931.3,888.8" fill="none" stroke="#0070C0" stroke-width="1.9" stroke-linejoin="round"/>
<path d="M817.8,961.7 C817.35,957.58 816.23,945.72 815.1,937 C813.97,928.28 811.8,916.75 811,909.4 C810.2,902.05 809.97,897.25 810.3,892.9 C810.63,888.55 811.4,885.82 813,883.3 C814.6,880.78 817.6,878.72 819.9,877.8 C822.2,876.88 824.28,878.95 826.8,877.8 C829.32,876.65 831.33,873.88 835,870.9 C838.67,867.92 843.07,863.45 848.8,859.9 C854.53,856.35 862.52,852 869.4,849.6 C876.28,847.2 883.22,846.08 890.1,845.5 C896.98,844.92 904.97,845.08 910.7,846.1 C916.43,847.12 919.92,848.38 924.5,851.6 C929.08,854.82 934.42,859.2 938.2,865.4 C941.98,871.6 945.7,884.9 947.2,888.8" fill="none" stroke="#1EC01E" stroke-width="1.9" stroke-linejoin="round"/>
<path d="M823.3,956.2 C822.97,951.85 822.22,938.58 821.3,930.1 C820.38,921.62 818.27,912.65 817.8,905.3 C817.33,897.95 817.47,891.05 818.5,886 C819.53,880.95 821.7,877.87 824,875 C826.3,872.13 830,869.6 832.3,868.8 C834.6,868 835.97,869.73 837.8,870.2 C839.63,870.67 840.32,872.85 843.3,871.6 C846.28,870.35 850.2,866.25 855.7,862.7 C861.2,859.15 869.42,853.52 876.3,850.3 C883.18,847.08 890.12,844.55 897,843.4 C903.88,842.25 910.73,842.03 917.6,843.4 C924.47,844.77 932.47,848.17 938.2,851.6 C943.93,855.03 947.75,857.8 952,864 C956.25,870.2 961.75,884.67 963.7,888.8" fill="none" stroke="#006400" stroke-width="1.9" stroke-linejoin="round"/>
<path d="M823.3,950.7 C822.97,946.12 821.87,932.13 821.3,923.2 C820.73,914.27 819.67,904.67 819.9,897.1 C820.13,889.53 820.63,883.32 822.7,877.8 C824.77,872.28 828.63,867.45 832.3,864 C835.97,860.55 840.8,858.02 844.7,857.1 C848.6,856.18 852.72,857.8 855.7,858.5 C858.68,859.2 860.32,861.3 862.6,861.3 C864.88,861.3 866.65,860.33 869.4,858.5 C872.15,856.67 874.5,852.82 879.1,850.3 C883.7,847.78 890.58,845.02 897,843.4 C903.42,841.78 910.73,840.6 917.6,840.6 C924.47,840.6 931.32,840.87 938.2,843.4 C945.08,845.93 953.17,850.75 958.9,855.8 C964.63,860.85 969.28,868.2 972.6,873.7 C975.92,879.2 977.77,886.28 978.8,888.8" fill="none" stroke="#FFC000" stroke-width="1.9" stroke-linejoin="round"/>
<path d="M826.8,945.2 C826.92,940.38 827.5,924.78 827.5,916.3 C827.5,907.82 826.47,900.72 826.8,894.3 C827.13,887.88 827.67,883.3 829.5,877.8 C831.33,872.3 834.58,865.88 837.8,861.3 C841.02,856.72 844.22,853.05 848.8,850.3 C853.38,847.55 860.72,845.5 865.3,844.8 C869.88,844.1 872.63,844.73 876.3,846.1 C879.97,847.47 884.08,851.38 887.3,853 C890.52,854.62 892.85,856.03 895.6,855.8 C898.35,855.57 900.13,853.67 903.8,851.6 C907.47,849.53 913.02,845.45 917.6,843.4 C922.18,841.35 926.25,840.22 931.3,839.3 C936.35,838.38 942.17,837.68 947.9,837.9 C953.63,838.12 959.28,838.53 965.7,840.6 C972.12,842.67 980.67,846.62 986.4,850.3 C992.13,853.98 996.43,858.8 1000.1,862.7 C1003.77,866.6 1006.55,870.73 1008.4,873.7 C1010.25,876.67 1010.28,877.98 1011.2,880.5 C1012.12,883.02 1013.45,887.42 1013.9,888.8" fill="none" stroke="#FF9300" stroke-width="1.9" stroke-linejoin="round"/>
<rect x="770" y="666" width="461.6" height="340.6" fill="none" stroke="#000" stroke-width="1.7"/>
<line x1="770" y1="1006.4" x2="778" y2="1006.4" stroke="#000" stroke-width="1.6"/>
<line x1="770" y1="892.9" x2="778" y2="892.9" stroke="#000" stroke-width="1.6"/>
<line x1="770" y1="779.4" x2="778" y2="779.4" stroke="#000" stroke-width="1.6"/>
<line x1="770" y1="665.9" x2="778" y2="665.9" stroke="#000" stroke-width="1.6"/>
<line x1="885.6" y1="1006.6" x2="885.6" y2="998.6" stroke="#000" stroke-width="1.6"/>
<line x1="1001.2" y1="1006.6" x2="1001.2" y2="998.6" stroke="#000" stroke-width="1.6"/>
<line x1="1116.8" y1="1006.6" x2="1116.8" y2="998.6" stroke="#000" stroke-width="1.6"/>
<text x="746.2" y="673.9" style="font-family:'Liberation Sans',Arial,sans-serif;font-size:27.5px;font-weight:normal" text-anchor="end">0.2</text>
<text x="746.2" y="787.4" style="font-family:'Liberation Sans',Arial,sans-serif;font-size:27.5px;font-weight:normal" text-anchor="end">0.1</text>
<text x="746.2" y="900.9" style="font-family:'Liberation Sans',Arial,sans-serif;font-size:27.5px;font-weight:normal" text-anchor="end">0</text>
<text x="746.2" y="1014.4" style="font-family:'Liberation Sans',Arial,sans-serif;font-size:27.5px;font-weight:normal" text-anchor="end">-0.1</text>
<text x="770" y="1048.2" style="font-family:'Liberation Sans',Arial,sans-serif;font-size:27.5px;font-weight:normal" text-anchor="middle">0.1</text>
<text x="885.6" y="1048.2" style="font-family:'Liberation Sans',Arial,sans-serif;font-size:27.5px;font-weight:normal" text-anchor="middle">0.2</text>
<text x="1001.2" y="1048.2" style="font-family:'Liberation Sans',Arial,sans-serif;font-size:27.5px;font-weight:normal" text-anchor="middle">0.3</text>
<text x="1116.8" y="1048.2" style="font-family:'Liberation Sans',Arial,sans-serif;font-size:27.5px;font-weight:normal" text-anchor="middle">0.4</text>
<text x="1232.4" y="1048.2" style="font-family:'Liberation Sans',Arial,sans-serif;font-size:27.5px;font-weight:normal" text-anchor="middle">0.5</text>
<text x="650.8" y="674.3" style="font-family:'Liberation Sans',Arial,sans-serif;font-size:27.5px;font-weight:normal" text-anchor="start">d)</text>
<text transform="translate(677,818.7) rotate(-90)" style="font-family:'Liberation Sans',Arial,sans-serif;font-size:28px;font-weight:bold" text-anchor="middle">-Z'' [&#937; cm<tspan dy="5.6" style="font-size:19px;font-weight:normal">elec</tspan><tspan dy="-14" style="font-size:18.5px;font-weight:normal">2</tspan><tspan dy="8.4">]</tspan></text>
<text x="1000" y="1083.7" style="font-family:'Liberation Sans',Arial,sans-serif;font-size:28px;font-weight:bold" text-anchor="middle">Z' [&#937; cm<tspan dy="5.6" style="font-size:19px;font-weight:normal">elec</tspan><tspan dy="-14" style="font-size:18.5px;font-weight:normal">2</tspan><tspan dy="8.4">]</tspan></text>
<line x1="1401.9" y1="659.4" x2="1401.9" y2="1019.8" stroke="#000" stroke-width="1.8"/>
<line x1="1312.8" y1="731.9" x2="1817" y2="731.9" stroke="#000" stroke-width="2"/>
<text x="1357.5" y="688.9" style="font-family:'Liberation Serif','Times New Roman',serif;font-size:31px" text-anchor="middle">Cycle</text>
<text x="1357.5" y="724.2" style="font-family:'Liberation Serif','Times New Roman',serif;font-size:31px" text-anchor="middle">[# k]</text>
<text x="1469" y="688.9" style="font-family:'Liberation Serif','Times New Roman',serif;font-size:31px" text-anchor="middle">R<tspan dy="4" style="font-size:21px">s</tspan></text>
<text x="1469" y="724.2" style="font-family:'Liberation Serif','Times New Roman',serif;font-size:31px" text-anchor="middle">[&#937; cm<tspan dy="-12" style="font-size:19px">2</tspan><tspan dy="12">]</tspan></text>
<text x="1596.8" y="688.9" style="font-family:'Liberation Serif','Times New Roman',serif;font-size:31px" text-anchor="middle">R<tspan dy="4" style="font-size:21px">p,&#945;</tspan></text>
<text x="1596.8" y="724.2" style="font-family:'Liberation Serif','Times New Roman',serif;font-size:31px" text-anchor="middle">[&#937; cm<tspan dy="-12" style="font-size:19px">2</tspan><tspan dy="12">]</tspan></text>
<text x="1736" y="688.9" style="font-family:'Liberation Serif','Times New Roman',serif;font-size:31px" text-anchor="middle">C<tspan dy="4" style="font-size:21px">&#945;</tspan></text>
<text x="1736" y="724.2" style="font-family:'Liberation Serif','Times New Roman',serif;font-size:31px" text-anchor="middle">[mF cm<tspan dy="-12" style="font-size:19px">&#8211;2</tspan><tspan dy="12">]</tspan></text>
<text x="1357.5" y="762.4" style="font-family:'Liberation Serif','Times New Roman',serif;font-size:31px" text-anchor="middle">0</text>
<text x="1469" y="762.4" style="font-family:'Liberation Serif','Times New Roman',serif;font-size:31px" text-anchor="middle">0.121</text>
<text x="1596.8" y="762.4" style="font-family:'Liberation Serif','Times New Roman',serif;font-size:31px" text-anchor="middle">0.099</text>
<text x="1736" y="762.4" style="font-family:'Liberation Serif','Times New Roman',serif;font-size:31px" text-anchor="middle">50.8</text>
<text x="1357.5" y="798.28" style="font-family:'Liberation Serif','Times New Roman',serif;font-size:31px" text-anchor="middle">4.5</text>
<text x="1469" y="798.28" style="font-family:'Liberation Serif','Times New Roman',serif;font-size:31px" text-anchor="middle">0.121</text>
<text x="1596.8" y="798.28" style="font-family:'Liberation Serif','Times New Roman',serif;font-size:31px" text-anchor="middle">0.102</text>
<text x="1736" y="798.28" style="font-family:'Liberation Serif','Times New Roman',serif;font-size:31px" text-anchor="middle">39.5</text>
<text x="1357.5" y="834.16" style="font-family:'Liberation Serif','Times New Roman',serif;font-size:31px" text-anchor="middle">9</text>
<text x="1469" y="834.16" style="font-family:'Liberation Serif','Times New Roman',serif;font-size:31px" text-anchor="middle">0.124</text>
<text x="1596.8" y="834.16" style="font-family:'Liberation Serif','Times New Roman',serif;font-size:31px" text-anchor="middle">0.104</text>
<text x="1736" y="834.16" style="font-family:'Liberation Serif','Times New Roman',serif;font-size:31px" text-anchor="middle">38.4</text>
<text x="1357.5" y="870.04" style="font-family:'Liberation Serif','Times New Roman',serif;font-size:31px" text-anchor="middle">13.5</text>
<text x="1469" y="870.04" style="font-family:'Liberation Serif','Times New Roman',serif;font-size:31px" text-anchor="middle">0.130</text>
<text x="1596.8" y="870.04" style="font-family:'Liberation Serif','Times New Roman',serif;font-size:31px" text-anchor="middle">0.106</text>
<text x="1736" y="870.04" style="font-family:'Liberation Serif','Times New Roman',serif;font-size:31px" text-anchor="middle">30.1</text>
<text x="1357.5" y="905.92" style="font-family:'Liberation Serif','Times New Roman',serif;font-size:31px" text-anchor="middle">18</text>
<text x="1469" y="905.92" style="font-family:'Liberation Serif','Times New Roman',serif;font-size:31px" text-anchor="middle">0.136</text>
<text x="1596.8" y="905.92" style="font-family:'Liberation Serif','Times New Roman',serif;font-size:31px" text-anchor="middle">0.111</text>
<text x="1736" y="905.92" style="font-family:'Liberation Serif','Times New Roman',serif;font-size:31px" text-anchor="middle">28.7</text>
<text x="1357.5" y="941.8" style="font-family:'Liberation Serif','Times New Roman',serif;font-size:31px" text-anchor="middle">22.5</text>
<text x="1469" y="941.8" style="font-family:'Liberation Serif','Times New Roman',serif;font-size:31px" text-anchor="middle">0.143</text>
<text x="1596.8" y="941.8" style="font-family:'Liberation Serif','Times New Roman',serif;font-size:31px" text-anchor="middle">0.116</text>
<text x="1736" y="941.8" style="font-family:'Liberation Serif','Times New Roman',serif;font-size:31px" text-anchor="middle">21.7</text>
<text x="1357.5" y="977.68" style="font-family:'Liberation Serif','Times New Roman',serif;font-size:31px" text-anchor="middle">27</text>
<text x="1469" y="977.68" style="font-family:'Liberation Serif','Times New Roman',serif;font-size:31px" text-anchor="middle">0.146</text>
<text x="1596.8" y="977.68" style="font-family:'Liberation Serif','Times New Roman',serif;font-size:31px" text-anchor="middle">0.121</text>
<text x="1736" y="977.68" style="font-family:'Liberation Serif','Times New Roman',serif;font-size:31px" text-anchor="middle">20.8</text>
<text x="1357.5" y="1013.56" style="font-family:'Liberation Serif','Times New Roman',serif;font-size:31px" text-anchor="middle">31.5</text>
<text x="1469" y="1013.56" style="font-family:'Liberation Serif','Times New Roman',serif;font-size:31px" text-anchor="middle">0.152</text>
<text x="1596.8" y="1013.56" style="font-family:'Liberation Serif','Times New Roman',serif;font-size:31px" text-anchor="middle">0.130</text>
<text x="1736" y="1013.56" style="font-family:'Liberation Serif','Times New Roman',serif;font-size:31px" text-anchor="middle">15.5</text>
</svg>
</body></html>
